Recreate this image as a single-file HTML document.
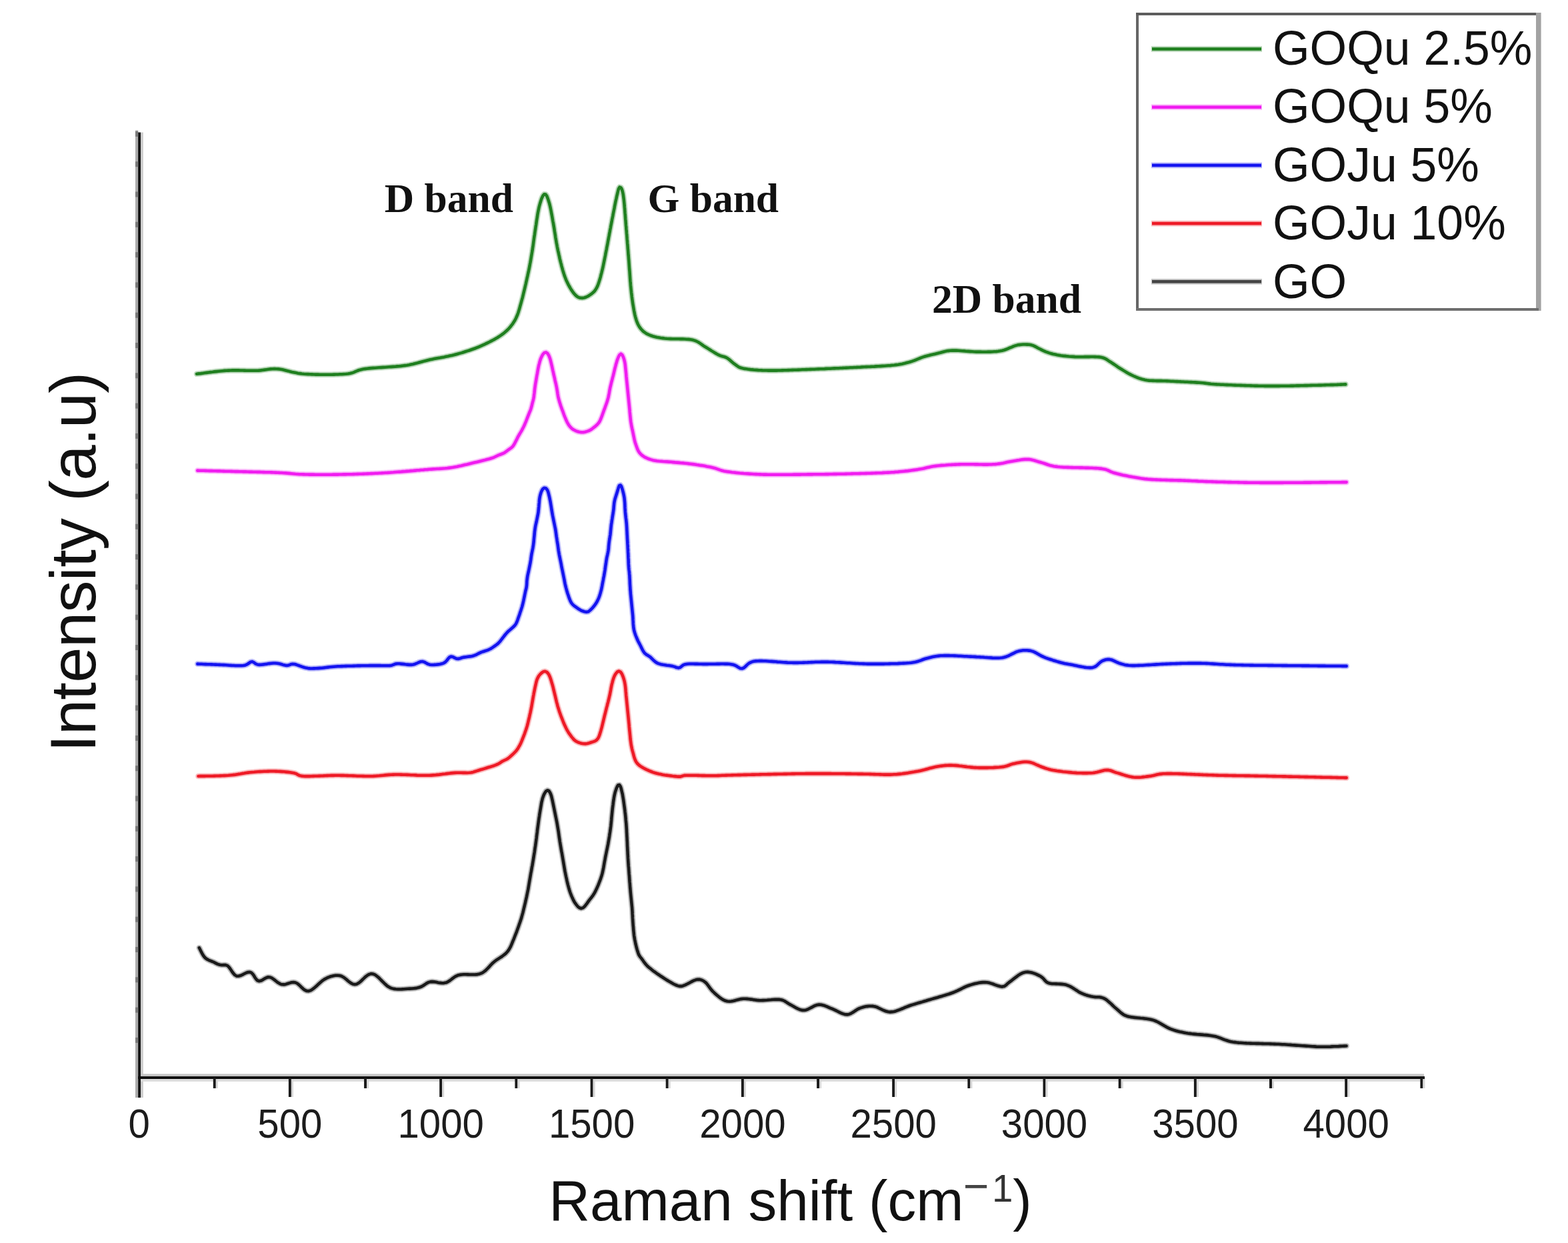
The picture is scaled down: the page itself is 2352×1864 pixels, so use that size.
<!DOCTYPE html>
<html><head><meta charset="utf-8"><title>Raman spectra</title>
<style>html,body{margin:0;padding:0;background:#fff;}body{width:2352px;height:1864px;overflow:hidden;}svg{display:block;}</style>
</head><body>
<svg width="2352" height="1864" viewBox="0 0 2352 1864"><rect x="203" y="195.5" width="4.2" height="1450.5" fill="#acacac"/>
<rect x="210.9" y="198.5" width="3.9" height="1447.5" fill="#cdcdcd"/>
<rect x="207.1" y="198.5" width="3.9" height="1447.5" fill="#141414"/>
<rect x="203" y="196.9" width="4.2" height="8" fill="#7a7a7a"/>
<rect x="203" y="242.2" width="4.2" height="8" fill="#7a7a7a"/>
<rect x="203" y="287.5" width="4.2" height="8" fill="#7a7a7a"/>
<rect x="203" y="332.8" width="4.2" height="8" fill="#7a7a7a"/>
<rect x="203" y="378.1" width="4.2" height="8" fill="#7a7a7a"/>
<rect x="203" y="423.4" width="4.2" height="8" fill="#7a7a7a"/>
<rect x="203" y="468.7" width="4.2" height="8" fill="#7a7a7a"/>
<rect x="203" y="514.0" width="4.2" height="8" fill="#7a7a7a"/>
<rect x="203" y="559.3" width="4.2" height="8" fill="#7a7a7a"/>
<rect x="203" y="604.6" width="4.2" height="8" fill="#7a7a7a"/>
<rect x="203" y="649.9" width="4.2" height="8" fill="#7a7a7a"/>
<rect x="203" y="695.2" width="4.2" height="8" fill="#7a7a7a"/>
<rect x="203" y="740.5" width="4.2" height="8" fill="#7a7a7a"/>
<rect x="203" y="785.8" width="4.2" height="8" fill="#7a7a7a"/>
<rect x="203" y="831.1" width="4.2" height="8" fill="#7a7a7a"/>
<rect x="203" y="876.4" width="4.2" height="8" fill="#7a7a7a"/>
<rect x="203" y="921.7" width="4.2" height="8" fill="#7a7a7a"/>
<rect x="203" y="967.0" width="4.2" height="8" fill="#7a7a7a"/>
<rect x="203" y="1012.3" width="4.2" height="8" fill="#7a7a7a"/>
<rect x="203" y="1057.6" width="4.2" height="8" fill="#7a7a7a"/>
<rect x="203" y="1102.9" width="4.2" height="8" fill="#7a7a7a"/>
<rect x="203" y="1148.2" width="4.2" height="8" fill="#7a7a7a"/>
<rect x="203" y="1193.5" width="4.2" height="8" fill="#7a7a7a"/>
<rect x="203" y="1238.8" width="4.2" height="8" fill="#7a7a7a"/>
<rect x="203" y="1284.1" width="4.2" height="8" fill="#7a7a7a"/>
<rect x="203" y="1329.4" width="4.2" height="8" fill="#7a7a7a"/>
<rect x="203" y="1374.7" width="4.2" height="8" fill="#7a7a7a"/>
<rect x="203" y="1420.0" width="4.2" height="8" fill="#7a7a7a"/>
<rect x="203" y="1465.3" width="4.2" height="8" fill="#7a7a7a"/>
<rect x="203" y="1510.6" width="4.2" height="8" fill="#7a7a7a"/>
<rect x="203" y="1555.9" width="4.2" height="8" fill="#7a7a7a"/>
<rect x="211" y="1610.4" width="1925" height="3.8" fill="#c6c6c6"/>
<rect x="211" y="1617.9" width="1925" height="4" fill="#dcdcdc"/>
<rect x="207" y="1614.1" width="1930" height="3.9" fill="#0c0c0c"/>
<rect x="319.8" y="1616" width="4" height="16" fill="#1a1a1a"/>
<rect x="323.8" y="1618" width="3" height="14" fill="#d8d8d8"/>
<rect x="432.9" y="1616" width="4" height="29" fill="#1a1a1a"/>
<rect x="436.9" y="1618" width="3" height="27" fill="#d8d8d8"/>
<rect x="546.1" y="1616" width="4" height="16" fill="#1a1a1a"/>
<rect x="550.1" y="1618" width="3" height="14" fill="#d8d8d8"/>
<rect x="659.2" y="1616" width="4" height="29" fill="#1a1a1a"/>
<rect x="663.2" y="1618" width="3" height="27" fill="#d8d8d8"/>
<rect x="772.4" y="1616" width="4" height="16" fill="#1a1a1a"/>
<rect x="776.4" y="1618" width="3" height="14" fill="#d8d8d8"/>
<rect x="885.6" y="1616" width="4" height="29" fill="#1a1a1a"/>
<rect x="889.6" y="1618" width="3" height="27" fill="#d8d8d8"/>
<rect x="998.7" y="1616" width="4" height="16" fill="#1a1a1a"/>
<rect x="1002.7" y="1618" width="3" height="14" fill="#d8d8d8"/>
<rect x="1111.9" y="1616" width="4" height="29" fill="#1a1a1a"/>
<rect x="1115.9" y="1618" width="3" height="27" fill="#d8d8d8"/>
<rect x="1225.1" y="1616" width="4" height="16" fill="#1a1a1a"/>
<rect x="1229.1" y="1618" width="3" height="14" fill="#d8d8d8"/>
<rect x="1338.2" y="1616" width="4" height="29" fill="#1a1a1a"/>
<rect x="1342.2" y="1618" width="3" height="27" fill="#d8d8d8"/>
<rect x="1451.4" y="1616" width="4" height="16" fill="#1a1a1a"/>
<rect x="1455.4" y="1618" width="3" height="14" fill="#d8d8d8"/>
<rect x="1564.5" y="1616" width="4" height="29" fill="#1a1a1a"/>
<rect x="1568.5" y="1618" width="3" height="27" fill="#d8d8d8"/>
<rect x="1677.7" y="1616" width="4" height="16" fill="#1a1a1a"/>
<rect x="1681.7" y="1618" width="3" height="14" fill="#d8d8d8"/>
<rect x="1790.9" y="1616" width="4" height="29" fill="#1a1a1a"/>
<rect x="1794.9" y="1618" width="3" height="27" fill="#d8d8d8"/>
<rect x="1904.0" y="1616" width="4" height="16" fill="#1a1a1a"/>
<rect x="1908.0" y="1618" width="3" height="14" fill="#d8d8d8"/>
<rect x="2017.2" y="1616" width="4" height="29" fill="#1a1a1a"/>
<rect x="2021.2" y="1618" width="3" height="27" fill="#d8d8d8"/>
<rect x="2130.4" y="1616" width="4" height="16" fill="#1a1a1a"/>
<rect x="2134.4" y="1618" width="3" height="14" fill="#d8d8d8"/>
<g font-family="Liberation Sans, Arial, sans-serif" font-size="60" fill="#1c1c1c" text-anchor="middle"><text transform="translate(208.6 1706) scale(0.97 1.02)">0</text><text transform="translate(434.9 1706) scale(0.97 1.02)">500</text><text transform="translate(661.2 1706) scale(0.97 1.02)">1000</text><text transform="translate(887.6 1706) scale(0.97 1.02)">1500</text><text transform="translate(1113.9 1706) scale(0.97 1.02)">2000</text><text transform="translate(1340.2 1706) scale(0.97 1.02)">2500</text><text transform="translate(1566.5 1706) scale(0.97 1.02)">3000</text><text transform="translate(1792.9 1706) scale(0.97 1.02)">3500</text><text transform="translate(2019.2 1706) scale(0.97 1.02)">4000</text></g>
<g font-family="Liberation Sans, Arial, sans-serif" fill="#111"><text x="823.2" y="1830" font-size="85.5">Raman shift (cm</text><text x="1444.9" y="1800.5" font-size="66" fill="#444">−</text><text x="1488" y="1801.5" font-size="56.5" fill="#333">1</text><text x="1519.3" y="1828.5" font-size="85.5">)</text></g>
<text transform="translate(142.6 1128.1) rotate(-90)" font-family="Liberation Sans, Arial, sans-serif" font-size="96" letter-spacing="-0.8" fill="#111">Intensity (a.u)</text>
<g font-family="Liberation Serif, Times New Roman, serif" font-weight="bold" font-size="61.5" fill="#111"><text x="576.8" y="317.5">D band</text><text x="971.5" y="317.5">G band</text><text x="1398" y="469">2D band</text></g>
<path d="M295.1 560.8 L298.1 560.4 L301.1 560.1 L304.0 559.7 L307.0 559.3 L310.0 558.9 L313.0 558.5 L315.9 558.1 L318.9 557.8 L321.9 557.4 L324.9 557.1 L327.9 556.8 L330.8 556.5 L333.8 556.2 L336.8 555.9 L339.8 555.7 L342.8 555.6 L345.8 555.5 L348.8 555.4 L351.8 555.4 L354.8 555.4 L357.8 555.4 L360.8 555.5 L363.8 555.5 L366.8 555.6 L369.8 555.7 L372.8 555.7 L375.8 555.8 L378.8 555.8 L381.8 555.8 L384.8 555.7 L387.8 555.6 L390.8 555.4 L393.8 555.0 L396.8 554.6 L399.7 554.2 L402.7 553.8 L405.7 553.4 L408.7 553.2 L411.7 553.1 L414.7 553.2 L417.7 553.4 L420.6 553.8 L423.6 554.3 L426.5 555.0 L429.4 555.7 L432.3 556.4 L435.2 557.2 L438.2 557.9 L441.1 558.5 L444.0 559.1 L447.0 559.7 L449.9 560.1 L452.9 560.5 L455.9 560.8 L458.9 561.0 L461.9 561.1 L464.9 561.3 L467.9 561.4 L470.9 561.5 L473.9 561.6 L476.9 561.6 L479.9 561.7 L482.9 561.7 L485.9 561.7 L488.9 561.7 L491.9 561.7 L494.9 561.7 L497.9 561.7 L500.9 561.6 L503.9 561.5 L506.9 561.5 L509.9 561.3 L512.9 561.2 L515.9 561.0 L518.9 560.8 L521.9 560.5 L524.8 560.0 L527.7 559.3 L530.6 558.3 L533.3 557.2 L536.1 556.0 L538.9 554.9 L541.8 554.2 L544.7 553.5 L547.7 553.1 L550.7 552.7 L553.7 552.4 L556.6 552.1 L559.6 551.9 L562.6 551.7 L565.6 551.5 L568.6 551.3 L571.6 551.1 L574.6 550.9 L577.6 550.7 L580.6 550.5 L583.6 550.3 L586.6 550.1 L589.6 549.9 L592.6 549.7 L595.6 549.4 L598.5 549.2 L601.5 548.9 L604.5 548.5 L607.5 548.1 L610.4 547.7 L613.4 547.2 L616.4 546.6 L619.3 546.0 L622.2 545.3 L625.1 544.6 L628.0 543.8 L630.9 543.0 L633.8 542.2 L636.7 541.4 L639.6 540.7 L642.5 540.0 L645.4 539.3 L648.4 538.7 L651.3 538.1 L654.3 537.5 L657.2 537.0 L660.2 536.5 L663.1 535.9 L666.1 535.4 L669.0 534.8 L672.0 534.3 L674.9 533.6 L677.8 533.0 L680.8 532.3 L683.7 531.5 L686.6 530.7 L689.4 529.9 L692.3 529.1 L695.2 528.2 L698.1 527.3 L700.9 526.4 L703.8 525.5 L706.6 524.5 L709.4 523.5 L712.3 522.5 L715.1 521.4 L717.8 520.3 L720.6 519.1 L723.4 517.9 L726.1 516.7 L728.8 515.4 L731.5 514.1 L734.2 512.8 L736.9 511.4 L739.5 510.0 L742.2 508.6 L744.8 507.1 L747.3 505.5 L749.8 503.9 L752.3 502.2 L754.7 500.4 L757.0 498.5 L759.3 496.5 L761.5 494.5 L763.6 492.3 L765.6 490.0 L767.4 487.7 L769.2 485.3 L770.8 482.8 L772.4 480.2 L773.8 477.5 L775.0 474.8 L776.2 472.0 L777.2 469.2 L778.1 466.4 L779.0 463.5 L779.8 460.6 L780.6 457.7 L781.4 454.8 L782.2 451.9 L783.0 449.0 L783.8 446.1 L784.5 443.2 L785.2 440.3 L785.9 437.4 L786.6 434.5 L787.3 431.6 L788.0 428.6 L788.7 425.7 L789.3 422.8 L790.0 419.9 L790.6 416.9 L791.3 414.0 L791.9 411.1 L792.6 408.1 L793.2 405.2 L793.8 402.3 L794.4 399.3 L794.9 396.4 L795.5 393.4 L796.0 390.5 L796.5 387.5 L797.0 384.5 L797.5 381.6 L798.0 378.6 L798.5 375.7 L798.9 372.7 L799.4 369.7 L799.8 366.8 L800.2 363.8 L800.6 360.8 L801.0 357.8 L801.4 354.9 L801.9 351.9 L802.3 348.9 L802.7 346.0 L803.2 343.0 L803.6 340.0 L804.1 337.1 L804.5 334.1 L804.9 331.1 L805.4 328.2 L805.9 325.2 L806.3 322.2 L806.8 319.3 L807.4 316.3 L808.0 313.4 L808.6 310.5 L809.4 307.5 L810.2 304.7 L811.1 301.8 L812.0 298.9 L813.1 296.2 L814.4 293.5 L816.3 291.3 L818.5 291.5 L820.2 293.8 L821.3 296.6 L822.3 299.4 L823.2 302.3 L824.1 305.1 L824.8 308.0 L825.5 311.0 L826.1 313.9 L826.7 316.9 L827.2 319.8 L827.8 322.8 L828.3 325.7 L828.8 328.7 L829.3 331.6 L829.9 334.6 L830.4 337.5 L830.9 340.5 L831.4 343.5 L831.8 346.4 L832.3 349.4 L832.8 352.3 L833.2 355.3 L833.7 358.3 L834.2 361.2 L834.7 364.2 L835.3 367.1 L835.8 370.1 L836.4 373.0 L837.0 376.0 L837.7 378.9 L838.3 381.8 L839.0 384.8 L839.6 387.7 L840.3 390.6 L841.0 393.5 L841.8 396.4 L842.5 399.3 L843.3 402.2 L844.1 405.1 L845.0 408.0 L845.9 410.9 L846.8 413.7 L847.9 416.5 L849.0 419.3 L850.2 422.1 L851.5 424.8 L852.8 427.4 L854.3 430.0 L855.8 432.6 L857.4 435.2 L859.1 437.6 L860.9 440.0 L862.9 442.3 L865.1 444.3 L867.6 445.9 L870.4 446.8 L873.4 446.9 L876.3 446.5 L879.2 445.5 L881.9 444.2 L884.4 442.6 L886.9 440.9 L889.2 439.0 L891.4 437.0 L893.2 434.6 L894.8 432.0 L896.1 429.4 L897.2 426.6 L898.2 423.7 L899.1 420.9 L900.0 418.0 L900.8 415.1 L901.5 412.2 L902.3 409.3 L903.0 406.4 L903.7 403.5 L904.4 400.6 L905.0 397.6 L905.6 394.7 L906.2 391.7 L906.8 388.8 L907.4 385.9 L908.0 382.9 L908.5 380.0 L909.1 377.0 L909.7 374.1 L910.2 371.1 L910.8 368.2 L911.4 365.2 L911.9 362.3 L912.5 359.3 L913.0 356.4 L913.6 353.4 L914.1 350.5 L914.7 347.5 L915.2 344.6 L915.8 341.6 L916.3 338.7 L916.9 335.7 L917.5 332.8 L918.0 329.8 L918.6 326.9 L919.2 324.0 L919.7 321.0 L920.3 318.1 L920.9 315.1 L921.5 312.2 L922.0 309.2 L922.6 306.3 L923.2 303.3 L923.8 300.4 L924.5 297.5 L925.1 294.5 L925.8 291.6 L926.5 288.7 L927.2 285.8 L928.0 282.9 L929.4 280.7 L931.4 281.4 L932.8 283.9 L933.7 286.8 L934.4 289.7 L934.9 292.6 L935.3 295.6 L935.7 298.6 L936.0 301.6 L936.3 304.5 L936.6 307.5 L936.8 310.5 L937.1 313.5 L937.3 316.5 L937.5 319.5 L937.8 322.5 L938.0 325.5 L938.2 328.5 L938.5 331.5 L938.7 334.5 L938.9 337.4 L939.2 340.4 L939.4 343.4 L939.7 346.4 L939.9 349.4 L940.2 352.4 L940.4 355.4 L940.6 358.4 L940.9 361.4 L941.1 364.4 L941.4 367.4 L941.6 370.3 L941.8 373.3 L942.1 376.3 L942.3 379.3 L942.5 382.3 L942.8 385.3 L943.0 388.3 L943.3 391.3 L943.5 394.3 L943.7 397.3 L943.9 400.3 L944.1 403.3 L944.4 406.2 L944.6 409.2 L944.8 412.2 L945.0 415.2 L945.2 418.2 L945.4 421.2 L945.7 424.2 L945.9 427.2 L946.2 430.2 L946.5 433.2 L946.8 436.2 L947.1 439.1 L947.5 442.1 L947.8 445.1 L948.2 448.1 L948.6 451.0 L949.0 454.0 L949.5 457.0 L950.0 459.9 L950.5 462.9 L951.0 465.9 L951.6 468.8 L952.2 471.7 L952.9 474.6 L953.7 477.5 L954.6 480.4 L955.6 483.2 L956.8 486.0 L958.2 488.6 L959.8 491.2 L961.6 493.5 L963.7 495.7 L965.9 497.7 L968.4 499.4 L971.0 500.9 L973.7 502.2 L976.5 503.3 L979.3 504.2 L982.2 505.0 L985.2 505.7 L988.1 506.2 L991.1 506.7 L994.0 507.1 L997.0 507.5 L1000.0 507.8 L1003.0 508.0 L1006.0 508.1 L1009.0 508.2 L1012.0 508.3 L1015.0 508.3 L1018.0 508.3 L1021.0 508.4 L1024.0 508.4 L1027.0 508.5 L1030.0 508.7 L1033.0 508.9 L1036.0 509.3 L1038.9 509.8 L1041.8 510.6 L1044.6 511.7 L1047.3 513.0 L1049.8 514.6 L1052.3 516.3 L1054.7 518.1 L1057.2 519.8 L1059.7 521.3 L1062.3 522.9 L1064.9 524.5 L1067.4 526.1 L1069.9 527.6 L1072.5 529.2 L1075.1 530.8 L1077.7 532.2 L1080.4 533.4 L1083.3 534.3 L1086.2 535.0 L1089.0 536.0 L1091.6 537.5 L1094.0 539.3 L1096.2 541.3 L1098.5 543.3 L1100.8 545.2 L1103.2 546.9 L1105.6 548.7 L1108.1 550.4 L1110.9 551.5 L1113.8 552.3 L1116.7 552.9 L1119.7 553.3 L1122.6 553.7 L1125.6 554.1 L1128.6 554.4 L1131.6 554.7 L1134.6 554.9 L1137.6 555.1 L1140.6 555.2 L1143.6 555.4 L1146.6 555.5 L1149.6 555.5 L1152.6 555.6 L1155.6 555.6 L1158.6 555.6 L1161.6 555.6 L1164.6 555.6 L1167.6 555.5 L1170.6 555.5 L1173.6 555.4 L1176.6 555.3 L1179.6 555.2 L1182.6 555.1 L1185.6 555.0 L1188.6 554.9 L1191.6 554.8 L1194.6 554.7 L1197.6 554.6 L1200.6 554.5 L1203.6 554.3 L1206.6 554.2 L1209.6 554.1 L1212.6 554.0 L1215.6 553.9 L1218.6 553.8 L1221.6 553.7 L1224.6 553.5 L1227.6 553.4 L1230.6 553.3 L1233.6 553.2 L1236.6 553.1 L1239.5 552.9 L1242.5 552.8 L1245.5 552.7 L1248.5 552.5 L1251.5 552.4 L1254.5 552.3 L1257.5 552.2 L1260.5 552.0 L1263.5 551.9 L1266.5 551.7 L1269.5 551.6 L1272.5 551.5 L1275.5 551.3 L1278.5 551.2 L1281.5 551.0 L1284.5 550.9 L1287.5 550.7 L1290.5 550.6 L1293.5 550.4 L1296.5 550.3 L1299.5 550.1 L1302.5 550.0 L1305.5 549.9 L1308.5 549.7 L1311.5 549.6 L1314.5 549.4 L1317.5 549.3 L1320.5 549.1 L1323.5 548.9 L1326.5 548.7 L1329.5 548.5 L1332.5 548.3 L1335.4 548.1 L1338.4 547.8 L1341.4 547.5 L1344.4 547.1 L1347.4 546.7 L1350.3 546.2 L1353.3 545.7 L1356.2 545.1 L1359.1 544.3 L1362.0 543.6 L1364.9 542.8 L1367.8 541.9 L1370.6 540.9 L1373.4 539.8 L1376.2 538.7 L1379.0 537.5 L1381.8 536.4 L1384.6 535.4 L1387.4 534.5 L1390.3 533.7 L1393.2 533.0 L1396.1 532.2 L1399.1 531.6 L1402.0 530.9 L1404.9 530.2 L1407.8 529.5 L1410.7 528.8 L1413.6 528.0 L1416.5 527.2 L1419.5 526.6 L1422.4 526.1 L1425.4 525.8 L1428.4 525.6 L1431.4 525.6 L1434.4 525.6 L1437.4 525.8 L1440.4 526.0 L1443.4 526.2 L1446.4 526.4 L1449.4 526.7 L1452.4 526.9 L1455.4 527.1 L1458.4 527.3 L1461.4 527.5 L1464.4 527.6 L1467.4 527.6 L1470.4 527.6 L1473.4 527.7 L1476.4 527.7 L1479.4 527.7 L1482.4 527.6 L1485.4 527.6 L1488.4 527.5 L1491.4 527.3 L1494.3 527.1 L1497.3 526.8 L1500.3 526.3 L1503.2 525.7 L1506.1 525.0 L1509.0 524.0 L1511.8 522.9 L1514.5 521.7 L1517.3 520.6 L1520.1 519.4 L1522.9 518.4 L1525.8 517.6 L1528.7 517.1 L1531.7 516.7 L1534.7 516.5 L1537.7 516.5 L1540.7 516.6 L1543.7 516.8 L1546.6 517.3 L1549.5 518.1 L1552.3 519.4 L1554.9 520.8 L1557.5 522.2 L1560.2 523.5 L1562.9 524.9 L1565.6 526.2 L1568.3 527.4 L1571.2 528.4 L1574.0 529.4 L1576.9 530.2 L1579.8 531.0 L1582.7 531.6 L1585.7 532.2 L1588.6 532.7 L1591.6 533.2 L1594.6 533.6 L1597.5 533.9 L1600.5 534.2 L1603.5 534.5 L1606.5 534.7 L1609.5 534.9 L1612.5 535.1 L1615.5 535.2 L1618.5 535.2 L1621.5 535.2 L1624.5 535.2 L1627.5 535.1 L1630.5 535.1 L1633.5 535.1 L1636.5 535.0 L1639.5 535.0 L1642.5 535.1 L1645.5 535.2 L1648.5 535.4 L1651.4 535.8 L1654.4 536.5 L1657.2 537.5 L1659.8 538.9 L1662.3 540.6 L1664.8 542.3 L1667.3 543.8 L1669.8 545.5 L1672.3 547.2 L1674.8 548.9 L1677.2 550.6 L1679.8 552.3 L1682.3 553.8 L1684.9 555.4 L1687.4 556.9 L1690.0 558.5 L1692.6 560.0 L1695.3 561.4 L1698.0 562.7 L1700.7 564.0 L1703.4 565.2 L1706.2 566.3 L1709.0 567.4 L1711.9 568.3 L1714.8 569.1 L1717.7 569.7 L1720.7 570.2 L1723.6 570.6 L1726.6 570.8 L1729.6 570.9 L1732.6 571.0 L1735.6 571.1 L1738.6 571.1 L1741.6 571.1 L1744.6 571.2 L1747.6 571.3 L1750.6 571.4 L1753.6 571.5 L1756.6 571.7 L1759.6 571.8 L1762.6 572.0 L1765.6 572.1 L1768.6 572.2 L1771.6 572.4 L1774.6 572.5 L1777.6 572.7 L1780.6 572.8 L1783.6 573.0 L1786.6 573.1 L1789.6 573.3 L1792.6 573.4 L1795.6 573.6 L1798.6 573.8 L1801.6 574.0 L1804.6 574.2 L1807.5 574.6 L1810.5 575.0 L1813.5 575.4 L1816.5 575.8 L1819.4 576.0 L1822.4 576.2 L1825.4 576.4 L1828.4 576.5 L1831.4 576.7 L1834.4 576.8 L1837.4 577.0 L1840.4 577.1 L1843.4 577.2 L1846.4 577.3 L1849.4 577.5 L1852.4 577.6 L1855.4 577.7 L1858.4 577.8 L1861.4 577.9 L1864.4 578.0 L1867.4 578.1 L1870.4 578.2 L1873.4 578.3 L1876.4 578.4 L1879.4 578.5 L1882.4 578.6 L1885.4 578.6 L1888.4 578.7 L1891.4 578.8 L1894.4 578.8 L1897.4 578.9 L1900.4 578.9 L1903.4 578.9 L1906.4 578.9 L1909.4 578.9 L1912.4 578.9 L1915.4 578.9 L1918.4 578.9 L1921.4 578.8 L1924.4 578.8 L1927.4 578.8 L1930.4 578.7 L1933.4 578.7 L1936.4 578.6 L1939.4 578.6 L1942.4 578.5 L1945.4 578.4 L1948.4 578.4 L1951.4 578.3 L1954.4 578.2 L1957.4 578.1 L1960.4 578.1 L1963.4 578.0 L1966.4 577.9 L1969.4 577.8 L1972.4 577.8 L1975.4 577.7 L1978.4 577.6 L1981.4 577.6 L1984.4 577.5 L1987.4 577.4 L1990.4 577.3 L1993.4 577.2 L1996.4 577.1 L1999.4 577.1 L2002.4 577.0 L2005.4 576.9 L2008.4 576.7 L2011.4 576.6 L2014.4 576.5 L2017.2 576.4 L2018.4 576.4" fill="none" stroke="#1f7f1f" stroke-opacity="0.3" stroke-width="8.6" stroke-linejoin="round" stroke-linecap="round"/>
<path d="M295.1 560.8 L298.1 560.4 L301.1 560.1 L304.0 559.7 L307.0 559.3 L310.0 558.9 L313.0 558.5 L315.9 558.1 L318.9 557.8 L321.9 557.4 L324.9 557.1 L327.9 556.8 L330.8 556.5 L333.8 556.2 L336.8 555.9 L339.8 555.7 L342.8 555.6 L345.8 555.5 L348.8 555.4 L351.8 555.4 L354.8 555.4 L357.8 555.4 L360.8 555.5 L363.8 555.5 L366.8 555.6 L369.8 555.7 L372.8 555.7 L375.8 555.8 L378.8 555.8 L381.8 555.8 L384.8 555.7 L387.8 555.6 L390.8 555.4 L393.8 555.0 L396.8 554.6 L399.7 554.2 L402.7 553.8 L405.7 553.4 L408.7 553.2 L411.7 553.1 L414.7 553.2 L417.7 553.4 L420.6 553.8 L423.6 554.3 L426.5 555.0 L429.4 555.7 L432.3 556.4 L435.2 557.2 L438.2 557.9 L441.1 558.5 L444.0 559.1 L447.0 559.7 L449.9 560.1 L452.9 560.5 L455.9 560.8 L458.9 561.0 L461.9 561.1 L464.9 561.3 L467.9 561.4 L470.9 561.5 L473.9 561.6 L476.9 561.6 L479.9 561.7 L482.9 561.7 L485.9 561.7 L488.9 561.7 L491.9 561.7 L494.9 561.7 L497.9 561.7 L500.9 561.6 L503.9 561.5 L506.9 561.5 L509.9 561.3 L512.9 561.2 L515.9 561.0 L518.9 560.8 L521.9 560.5 L524.8 560.0 L527.7 559.3 L530.6 558.3 L533.3 557.2 L536.1 556.0 L538.9 554.9 L541.8 554.2 L544.7 553.5 L547.7 553.1 L550.7 552.7 L553.7 552.4 L556.6 552.1 L559.6 551.9 L562.6 551.7 L565.6 551.5 L568.6 551.3 L571.6 551.1 L574.6 550.9 L577.6 550.7 L580.6 550.5 L583.6 550.3 L586.6 550.1 L589.6 549.9 L592.6 549.7 L595.6 549.4 L598.5 549.2 L601.5 548.9 L604.5 548.5 L607.5 548.1 L610.4 547.7 L613.4 547.2 L616.4 546.6 L619.3 546.0 L622.2 545.3 L625.1 544.6 L628.0 543.8 L630.9 543.0 L633.8 542.2 L636.7 541.4 L639.6 540.7 L642.5 540.0 L645.4 539.3 L648.4 538.7 L651.3 538.1 L654.3 537.5 L657.2 537.0 L660.2 536.5 L663.1 535.9 L666.1 535.4 L669.0 534.8 L672.0 534.3 L674.9 533.6 L677.8 533.0 L680.8 532.3 L683.7 531.5 L686.6 530.7 L689.4 529.9 L692.3 529.1 L695.2 528.2 L698.1 527.3 L700.9 526.4 L703.8 525.5 L706.6 524.5 L709.4 523.5 L712.3 522.5 L715.1 521.4 L717.8 520.3 L720.6 519.1 L723.4 517.9 L726.1 516.7 L728.8 515.4 L731.5 514.1 L734.2 512.8 L736.9 511.4 L739.5 510.0 L742.2 508.6 L744.8 507.1 L747.3 505.5 L749.8 503.9 L752.3 502.2 L754.7 500.4 L757.0 498.5 L759.3 496.5 L761.5 494.5 L763.6 492.3 L765.6 490.0 L767.4 487.7 L769.2 485.3 L770.8 482.8 L772.4 480.2 L773.8 477.5 L775.0 474.8 L776.2 472.0 L777.2 469.2 L778.1 466.4 L779.0 463.5 L779.8 460.6 L780.6 457.7 L781.4 454.8 L782.2 451.9 L783.0 449.0 L783.8 446.1 L784.5 443.2 L785.2 440.3 L785.9 437.4 L786.6 434.5 L787.3 431.6 L788.0 428.6 L788.7 425.7 L789.3 422.8 L790.0 419.9 L790.6 416.9 L791.3 414.0 L791.9 411.1 L792.6 408.1 L793.2 405.2 L793.8 402.3 L794.4 399.3 L794.9 396.4 L795.5 393.4 L796.0 390.5 L796.5 387.5 L797.0 384.5 L797.5 381.6 L798.0 378.6 L798.5 375.7 L798.9 372.7 L799.4 369.7 L799.8 366.8 L800.2 363.8 L800.6 360.8 L801.0 357.8 L801.4 354.9 L801.9 351.9 L802.3 348.9 L802.7 346.0 L803.2 343.0 L803.6 340.0 L804.1 337.1 L804.5 334.1 L804.9 331.1 L805.4 328.2 L805.9 325.2 L806.3 322.2 L806.8 319.3 L807.4 316.3 L808.0 313.4 L808.6 310.5 L809.4 307.5 L810.2 304.7 L811.1 301.8 L812.0 298.9 L813.1 296.2 L814.4 293.5 L816.3 291.3 L818.5 291.5 L820.2 293.8 L821.3 296.6 L822.3 299.4 L823.2 302.3 L824.1 305.1 L824.8 308.0 L825.5 311.0 L826.1 313.9 L826.7 316.9 L827.2 319.8 L827.8 322.8 L828.3 325.7 L828.8 328.7 L829.3 331.6 L829.9 334.6 L830.4 337.5 L830.9 340.5 L831.4 343.5 L831.8 346.4 L832.3 349.4 L832.8 352.3 L833.2 355.3 L833.7 358.3 L834.2 361.2 L834.7 364.2 L835.3 367.1 L835.8 370.1 L836.4 373.0 L837.0 376.0 L837.7 378.9 L838.3 381.8 L839.0 384.8 L839.6 387.7 L840.3 390.6 L841.0 393.5 L841.8 396.4 L842.5 399.3 L843.3 402.2 L844.1 405.1 L845.0 408.0 L845.9 410.9 L846.8 413.7 L847.9 416.5 L849.0 419.3 L850.2 422.1 L851.5 424.8 L852.8 427.4 L854.3 430.0 L855.8 432.6 L857.4 435.2 L859.1 437.6 L860.9 440.0 L862.9 442.3 L865.1 444.3 L867.6 445.9 L870.4 446.8 L873.4 446.9 L876.3 446.5 L879.2 445.5 L881.9 444.2 L884.4 442.6 L886.9 440.9 L889.2 439.0 L891.4 437.0 L893.2 434.6 L894.8 432.0 L896.1 429.4 L897.2 426.6 L898.2 423.7 L899.1 420.9 L900.0 418.0 L900.8 415.1 L901.5 412.2 L902.3 409.3 L903.0 406.4 L903.7 403.5 L904.4 400.6 L905.0 397.6 L905.6 394.7 L906.2 391.7 L906.8 388.8 L907.4 385.9 L908.0 382.9 L908.5 380.0 L909.1 377.0 L909.7 374.1 L910.2 371.1 L910.8 368.2 L911.4 365.2 L911.9 362.3 L912.5 359.3 L913.0 356.4 L913.6 353.4 L914.1 350.5 L914.7 347.5 L915.2 344.6 L915.8 341.6 L916.3 338.7 L916.9 335.7 L917.5 332.8 L918.0 329.8 L918.6 326.9 L919.2 324.0 L919.7 321.0 L920.3 318.1 L920.9 315.1 L921.5 312.2 L922.0 309.2 L922.6 306.3 L923.2 303.3 L923.8 300.4 L924.5 297.5 L925.1 294.5 L925.8 291.6 L926.5 288.7 L927.2 285.8 L928.0 282.9 L929.4 280.7 L931.4 281.4 L932.8 283.9 L933.7 286.8 L934.4 289.7 L934.9 292.6 L935.3 295.6 L935.7 298.6 L936.0 301.6 L936.3 304.5 L936.6 307.5 L936.8 310.5 L937.1 313.5 L937.3 316.5 L937.5 319.5 L937.8 322.5 L938.0 325.5 L938.2 328.5 L938.5 331.5 L938.7 334.5 L938.9 337.4 L939.2 340.4 L939.4 343.4 L939.7 346.4 L939.9 349.4 L940.2 352.4 L940.4 355.4 L940.6 358.4 L940.9 361.4 L941.1 364.4 L941.4 367.4 L941.6 370.3 L941.8 373.3 L942.1 376.3 L942.3 379.3 L942.5 382.3 L942.8 385.3 L943.0 388.3 L943.3 391.3 L943.5 394.3 L943.7 397.3 L943.9 400.3 L944.1 403.3 L944.4 406.2 L944.6 409.2 L944.8 412.2 L945.0 415.2 L945.2 418.2 L945.4 421.2 L945.7 424.2 L945.9 427.2 L946.2 430.2 L946.5 433.2 L946.8 436.2 L947.1 439.1 L947.5 442.1 L947.8 445.1 L948.2 448.1 L948.6 451.0 L949.0 454.0 L949.5 457.0 L950.0 459.9 L950.5 462.9 L951.0 465.9 L951.6 468.8 L952.2 471.7 L952.9 474.6 L953.7 477.5 L954.6 480.4 L955.6 483.2 L956.8 486.0 L958.2 488.6 L959.8 491.2 L961.6 493.5 L963.7 495.7 L965.9 497.7 L968.4 499.4 L971.0 500.9 L973.7 502.2 L976.5 503.3 L979.3 504.2 L982.2 505.0 L985.2 505.7 L988.1 506.2 L991.1 506.7 L994.0 507.1 L997.0 507.5 L1000.0 507.8 L1003.0 508.0 L1006.0 508.1 L1009.0 508.2 L1012.0 508.3 L1015.0 508.3 L1018.0 508.3 L1021.0 508.4 L1024.0 508.4 L1027.0 508.5 L1030.0 508.7 L1033.0 508.9 L1036.0 509.3 L1038.9 509.8 L1041.8 510.6 L1044.6 511.7 L1047.3 513.0 L1049.8 514.6 L1052.3 516.3 L1054.7 518.1 L1057.2 519.8 L1059.7 521.3 L1062.3 522.9 L1064.9 524.5 L1067.4 526.1 L1069.9 527.6 L1072.5 529.2 L1075.1 530.8 L1077.7 532.2 L1080.4 533.4 L1083.3 534.3 L1086.2 535.0 L1089.0 536.0 L1091.6 537.5 L1094.0 539.3 L1096.2 541.3 L1098.5 543.3 L1100.8 545.2 L1103.2 546.9 L1105.6 548.7 L1108.1 550.4 L1110.9 551.5 L1113.8 552.3 L1116.7 552.9 L1119.7 553.3 L1122.6 553.7 L1125.6 554.1 L1128.6 554.4 L1131.6 554.7 L1134.6 554.9 L1137.6 555.1 L1140.6 555.2 L1143.6 555.4 L1146.6 555.5 L1149.6 555.5 L1152.6 555.6 L1155.6 555.6 L1158.6 555.6 L1161.6 555.6 L1164.6 555.6 L1167.6 555.5 L1170.6 555.5 L1173.6 555.4 L1176.6 555.3 L1179.6 555.2 L1182.6 555.1 L1185.6 555.0 L1188.6 554.9 L1191.6 554.8 L1194.6 554.7 L1197.6 554.6 L1200.6 554.5 L1203.6 554.3 L1206.6 554.2 L1209.6 554.1 L1212.6 554.0 L1215.6 553.9 L1218.6 553.8 L1221.6 553.7 L1224.6 553.5 L1227.6 553.4 L1230.6 553.3 L1233.6 553.2 L1236.6 553.1 L1239.5 552.9 L1242.5 552.8 L1245.5 552.7 L1248.5 552.5 L1251.5 552.4 L1254.5 552.3 L1257.5 552.2 L1260.5 552.0 L1263.5 551.9 L1266.5 551.7 L1269.5 551.6 L1272.5 551.5 L1275.5 551.3 L1278.5 551.2 L1281.5 551.0 L1284.5 550.9 L1287.5 550.7 L1290.5 550.6 L1293.5 550.4 L1296.5 550.3 L1299.5 550.1 L1302.5 550.0 L1305.5 549.9 L1308.5 549.7 L1311.5 549.6 L1314.5 549.4 L1317.5 549.3 L1320.5 549.1 L1323.5 548.9 L1326.5 548.7 L1329.5 548.5 L1332.5 548.3 L1335.4 548.1 L1338.4 547.8 L1341.4 547.5 L1344.4 547.1 L1347.4 546.7 L1350.3 546.2 L1353.3 545.7 L1356.2 545.1 L1359.1 544.3 L1362.0 543.6 L1364.9 542.8 L1367.8 541.9 L1370.6 540.9 L1373.4 539.8 L1376.2 538.7 L1379.0 537.5 L1381.8 536.4 L1384.6 535.4 L1387.4 534.5 L1390.3 533.7 L1393.2 533.0 L1396.1 532.2 L1399.1 531.6 L1402.0 530.9 L1404.9 530.2 L1407.8 529.5 L1410.7 528.8 L1413.6 528.0 L1416.5 527.2 L1419.5 526.6 L1422.4 526.1 L1425.4 525.8 L1428.4 525.6 L1431.4 525.6 L1434.4 525.6 L1437.4 525.8 L1440.4 526.0 L1443.4 526.2 L1446.4 526.4 L1449.4 526.7 L1452.4 526.9 L1455.4 527.1 L1458.4 527.3 L1461.4 527.5 L1464.4 527.6 L1467.4 527.6 L1470.4 527.6 L1473.4 527.7 L1476.4 527.7 L1479.4 527.7 L1482.4 527.6 L1485.4 527.6 L1488.4 527.5 L1491.4 527.3 L1494.3 527.1 L1497.3 526.8 L1500.3 526.3 L1503.2 525.7 L1506.1 525.0 L1509.0 524.0 L1511.8 522.9 L1514.5 521.7 L1517.3 520.6 L1520.1 519.4 L1522.9 518.4 L1525.8 517.6 L1528.7 517.1 L1531.7 516.7 L1534.7 516.5 L1537.7 516.5 L1540.7 516.6 L1543.7 516.8 L1546.6 517.3 L1549.5 518.1 L1552.3 519.4 L1554.9 520.8 L1557.5 522.2 L1560.2 523.5 L1562.9 524.9 L1565.6 526.2 L1568.3 527.4 L1571.2 528.4 L1574.0 529.4 L1576.9 530.2 L1579.8 531.0 L1582.7 531.6 L1585.7 532.2 L1588.6 532.7 L1591.6 533.2 L1594.6 533.6 L1597.5 533.9 L1600.5 534.2 L1603.5 534.5 L1606.5 534.7 L1609.5 534.9 L1612.5 535.1 L1615.5 535.2 L1618.5 535.2 L1621.5 535.2 L1624.5 535.2 L1627.5 535.1 L1630.5 535.1 L1633.5 535.1 L1636.5 535.0 L1639.5 535.0 L1642.5 535.1 L1645.5 535.2 L1648.5 535.4 L1651.4 535.8 L1654.4 536.5 L1657.2 537.5 L1659.8 538.9 L1662.3 540.6 L1664.8 542.3 L1667.3 543.8 L1669.8 545.5 L1672.3 547.2 L1674.8 548.9 L1677.2 550.6 L1679.8 552.3 L1682.3 553.8 L1684.9 555.4 L1687.4 556.9 L1690.0 558.5 L1692.6 560.0 L1695.3 561.4 L1698.0 562.7 L1700.7 564.0 L1703.4 565.2 L1706.2 566.3 L1709.0 567.4 L1711.9 568.3 L1714.8 569.1 L1717.7 569.7 L1720.7 570.2 L1723.6 570.6 L1726.6 570.8 L1729.6 570.9 L1732.6 571.0 L1735.6 571.1 L1738.6 571.1 L1741.6 571.1 L1744.6 571.2 L1747.6 571.3 L1750.6 571.4 L1753.6 571.5 L1756.6 571.7 L1759.6 571.8 L1762.6 572.0 L1765.6 572.1 L1768.6 572.2 L1771.6 572.4 L1774.6 572.5 L1777.6 572.7 L1780.6 572.8 L1783.6 573.0 L1786.6 573.1 L1789.6 573.3 L1792.6 573.4 L1795.6 573.6 L1798.6 573.8 L1801.6 574.0 L1804.6 574.2 L1807.5 574.6 L1810.5 575.0 L1813.5 575.4 L1816.5 575.8 L1819.4 576.0 L1822.4 576.2 L1825.4 576.4 L1828.4 576.5 L1831.4 576.7 L1834.4 576.8 L1837.4 577.0 L1840.4 577.1 L1843.4 577.2 L1846.4 577.3 L1849.4 577.5 L1852.4 577.6 L1855.4 577.7 L1858.4 577.8 L1861.4 577.9 L1864.4 578.0 L1867.4 578.1 L1870.4 578.2 L1873.4 578.3 L1876.4 578.4 L1879.4 578.5 L1882.4 578.6 L1885.4 578.6 L1888.4 578.7 L1891.4 578.8 L1894.4 578.8 L1897.4 578.9 L1900.4 578.9 L1903.4 578.9 L1906.4 578.9 L1909.4 578.9 L1912.4 578.9 L1915.4 578.9 L1918.4 578.9 L1921.4 578.8 L1924.4 578.8 L1927.4 578.8 L1930.4 578.7 L1933.4 578.7 L1936.4 578.6 L1939.4 578.6 L1942.4 578.5 L1945.4 578.4 L1948.4 578.4 L1951.4 578.3 L1954.4 578.2 L1957.4 578.1 L1960.4 578.1 L1963.4 578.0 L1966.4 577.9 L1969.4 577.8 L1972.4 577.8 L1975.4 577.7 L1978.4 577.6 L1981.4 577.6 L1984.4 577.5 L1987.4 577.4 L1990.4 577.3 L1993.4 577.2 L1996.4 577.1 L1999.4 577.1 L2002.4 577.0 L2005.4 576.9 L2008.4 576.7 L2011.4 576.6 L2014.4 576.5 L2017.2 576.4 L2018.4 576.4" fill="none" stroke="#1f7f1f" stroke-width="4.6" stroke-linejoin="round" stroke-linecap="round"/>
<path d="M296.3 705.6 L299.3 705.7 L302.3 705.8 L305.3 705.8 L308.3 705.9 L311.3 706.0 L314.3 706.1 L317.3 706.1 L320.3 706.2 L323.3 706.3 L326.3 706.4 L329.3 706.4 L332.3 706.5 L335.3 706.6 L338.3 706.7 L341.3 706.7 L344.3 706.8 L347.3 706.9 L350.3 707.0 L353.3 707.1 L356.3 707.1 L359.3 707.2 L362.3 707.3 L365.3 707.4 L368.3 707.4 L371.3 707.5 L374.3 707.6 L377.3 707.6 L380.3 707.7 L383.3 707.8 L386.3 707.9 L389.3 707.9 L392.3 708.0 L395.3 708.1 L398.3 708.2 L401.3 708.3 L404.3 708.3 L407.3 708.4 L410.3 708.5 L413.3 708.6 L416.3 708.7 L419.3 708.9 L422.3 709.0 L425.3 709.2 L428.3 709.4 L431.3 709.6 L434.2 709.9 L437.2 710.2 L440.2 710.5 L443.2 710.8 L446.2 711.0 L449.2 711.2 L452.2 711.3 L455.2 711.4 L458.2 711.5 L461.2 711.5 L464.2 711.6 L467.2 711.6 L470.2 711.6 L473.2 711.7 L476.2 711.7 L479.2 711.7 L482.2 711.7 L485.2 711.7 L488.2 711.7 L491.2 711.7 L494.2 711.7 L497.2 711.7 L500.2 711.6 L503.2 711.6 L506.2 711.6 L509.2 711.5 L512.2 711.5 L515.2 711.4 L518.2 711.4 L521.2 711.3 L524.2 711.3 L527.2 711.2 L530.2 711.1 L533.2 711.0 L536.2 710.9 L539.2 710.8 L542.2 710.7 L545.2 710.6 L548.2 710.5 L551.2 710.4 L554.2 710.3 L557.2 710.1 L560.2 710.0 L563.2 709.8 L566.2 709.7 L569.2 709.5 L572.2 709.4 L575.2 709.2 L578.2 709.0 L581.2 708.9 L584.1 708.7 L587.1 708.5 L590.1 708.3 L593.1 708.0 L596.1 707.8 L599.1 707.6 L602.1 707.4 L605.1 707.1 L608.1 706.9 L611.1 706.6 L614.1 706.4 L617.1 706.1 L620.0 705.9 L623.0 705.6 L626.0 705.3 L629.0 705.1 L632.0 704.8 L635.0 704.6 L638.0 704.3 L641.0 704.1 L644.0 703.8 L647.0 703.6 L649.9 703.4 L652.9 703.2 L655.9 703.0 L658.9 702.9 L661.9 702.7 L664.9 702.5 L667.9 702.3 L670.9 702.0 L673.9 701.6 L676.9 701.2 L679.8 700.8 L682.8 700.2 L685.7 699.7 L688.7 699.0 L691.6 698.4 L694.5 697.7 L697.4 697.0 L700.4 696.4 L703.3 695.7 L706.2 695.0 L709.1 694.3 L712.0 693.6 L715.0 692.9 L717.9 692.2 L720.8 691.5 L723.7 690.8 L726.6 690.1 L729.5 689.3 L732.4 688.6 L735.3 687.7 L738.2 686.8 L741.0 685.8 L743.7 684.5 L746.4 683.2 L749.2 682.0 L752.0 681.0 L754.7 679.9 L757.4 678.4 L759.8 676.7 L762.2 674.8 L764.6 673.1 L767.1 671.4 L769.2 669.3 L770.9 666.9 L772.3 664.3 L773.7 661.6 L775.1 658.9 L776.4 656.2 L777.8 653.6 L779.3 651.0 L780.9 648.4 L782.4 645.8 L783.8 643.2 L785.2 640.5 L786.5 637.8 L787.6 635.1 L788.8 632.3 L789.9 629.5 L791.0 626.7 L792.1 623.9 L793.2 621.1 L794.3 618.3 L795.5 615.6 L796.5 612.7 L797.3 609.9 L798.0 606.9 L798.7 604.0 L799.5 601.1 L800.2 598.2 L800.8 595.3 L801.1 592.3 L801.5 589.3 L801.8 586.3 L802.1 583.3 L802.5 580.4 L802.9 577.4 L803.4 574.4 L803.9 571.5 L804.4 568.5 L804.9 565.6 L805.4 562.6 L806.0 559.7 L806.5 556.7 L807.0 553.8 L807.6 550.8 L808.2 547.9 L809.0 545.0 L809.7 542.1 L810.6 539.2 L811.7 536.4 L813.0 533.7 L814.5 531.1 L816.5 529.0 L819.0 528.4 L821.3 529.9 L822.9 532.4 L824.1 535.2 L825.1 538.0 L825.9 540.9 L826.6 543.8 L827.3 546.7 L828.0 549.7 L828.6 552.6 L829.2 555.5 L829.9 558.4 L830.5 561.4 L831.2 564.3 L831.9 567.2 L832.5 570.2 L833.2 573.1 L833.9 576.0 L834.5 578.9 L835.1 581.9 L835.6 584.8 L836.1 587.8 L836.5 590.8 L837.0 593.7 L837.6 596.7 L838.4 599.6 L839.2 602.5 L840.1 605.3 L841.0 608.2 L842.0 611.0 L843.0 613.8 L844.1 616.6 L845.1 619.5 L846.1 622.3 L847.2 625.1 L848.4 627.8 L849.5 630.6 L850.8 633.3 L852.3 635.9 L853.9 638.4 L855.8 640.7 L858.0 642.8 L860.5 644.5 L863.1 645.8 L865.9 647.0 L868.8 647.8 L871.8 648.2 L874.8 648.2 L877.7 647.7 L880.6 646.9 L883.4 645.9 L886.0 644.5 L888.5 642.8 L890.9 640.9 L893.2 639.1 L895.5 637.1 L897.5 634.8 L899.2 632.4 L900.5 629.7 L901.7 627.0 L902.8 624.2 L903.8 621.3 L904.8 618.5 L905.8 615.7 L906.9 612.9 L907.9 610.0 L908.9 607.2 L909.9 604.4 L910.9 601.6 L911.7 598.7 L912.5 595.8 L913.1 592.8 L913.7 589.9 L914.2 586.9 L914.7 584.0 L915.3 581.0 L916.0 578.1 L916.7 575.2 L917.4 572.3 L918.2 569.4 L918.9 566.5 L919.7 563.6 L920.4 560.7 L921.1 557.8 L921.8 554.8 L922.5 551.9 L923.3 549.0 L924.0 546.1 L924.9 543.2 L925.7 540.4 L926.8 537.5 L927.9 534.8 L929.4 532.2 L931.3 530.7 L933.3 532.1 L934.6 534.7 L935.7 537.5 L936.5 540.4 L937.2 543.3 L937.7 546.3 L938.0 549.2 L938.3 552.2 L938.6 555.2 L938.9 558.2 L939.2 561.2 L939.4 564.2 L939.7 567.2 L940.0 570.2 L940.3 573.1 L940.6 576.1 L940.9 579.1 L941.2 582.1 L941.5 585.1 L941.8 588.1 L942.1 591.1 L942.4 594.0 L942.7 597.0 L943.0 600.0 L943.3 603.0 L943.6 606.0 L943.9 609.0 L944.2 612.0 L944.5 614.9 L944.7 617.9 L945.0 620.9 L945.3 623.9 L945.6 626.9 L945.9 629.9 L946.3 632.9 L946.8 635.8 L947.3 638.8 L947.9 641.7 L948.5 644.6 L949.2 647.6 L949.8 650.5 L950.4 653.5 L951.0 656.4 L951.6 659.3 L952.3 662.2 L953.2 665.1 L954.2 667.9 L955.2 670.8 L956.2 673.6 L957.5 676.3 L959.1 678.8 L961.1 681.1 L963.3 683.0 L965.8 684.7 L968.4 686.2 L971.1 687.4 L973.9 688.5 L976.8 689.4 L979.7 690.2 L982.6 690.7 L985.6 691.2 L988.6 691.5 L991.6 691.7 L994.6 692.0 L997.6 692.2 L1000.6 692.4 L1003.6 692.6 L1006.6 692.8 L1009.5 693.1 L1012.5 693.4 L1015.5 693.6 L1018.5 693.9 L1021.5 694.2 L1024.5 694.4 L1027.5 694.7 L1030.5 695.0 L1033.4 695.4 L1036.4 695.7 L1039.4 696.1 L1042.4 696.5 L1045.3 697.0 L1048.3 697.4 L1051.3 697.9 L1054.2 698.3 L1057.2 698.8 L1060.1 699.4 L1063.1 699.9 L1066.0 700.5 L1069.0 701.2 L1071.9 701.9 L1074.7 702.9 L1077.5 703.9 L1080.3 704.9 L1083.2 705.8 L1086.1 706.4 L1089.1 706.9 L1092.1 707.4 L1095.0 707.8 L1098.0 708.2 L1101.0 708.5 L1104.0 708.9 L1107.0 709.2 L1109.9 709.5 L1112.9 709.7 L1115.9 710.0 L1118.9 710.2 L1121.9 710.4 L1124.9 710.6 L1127.9 710.8 L1130.9 711.0 L1133.9 711.1 L1136.9 711.3 L1139.9 711.4 L1142.9 711.5 L1145.9 711.6 L1148.9 711.6 L1151.9 711.7 L1154.9 711.7 L1157.9 711.7 L1160.9 711.8 L1163.9 711.8 L1166.9 711.8 L1169.9 711.8 L1172.9 711.8 L1175.9 711.7 L1178.9 711.7 L1181.9 711.7 L1184.9 711.7 L1187.9 711.7 L1190.9 711.6 L1193.9 711.6 L1196.9 711.6 L1199.9 711.6 L1202.9 711.5 L1205.9 711.5 L1208.9 711.5 L1211.9 711.4 L1214.9 711.4 L1217.9 711.4 L1220.9 711.3 L1223.9 711.3 L1226.9 711.3 L1229.9 711.2 L1232.9 711.2 L1235.9 711.2 L1238.9 711.1 L1241.9 711.1 L1244.9 711.0 L1247.9 711.0 L1250.9 710.9 L1253.9 710.9 L1256.9 710.8 L1259.9 710.8 L1262.9 710.7 L1265.9 710.7 L1268.9 710.6 L1271.9 710.5 L1274.9 710.5 L1277.9 710.4 L1280.9 710.3 L1283.9 710.3 L1286.9 710.2 L1289.9 710.1 L1292.9 710.0 L1295.9 710.0 L1298.9 709.9 L1301.9 709.8 L1304.9 709.7 L1307.9 709.6 L1310.9 709.5 L1313.9 709.4 L1316.9 709.3 L1319.9 709.2 L1322.9 709.1 L1325.9 708.9 L1328.9 708.8 L1331.9 708.6 L1334.9 708.5 L1337.9 708.3 L1340.9 708.1 L1343.9 707.8 L1346.8 707.6 L1349.8 707.3 L1352.8 707.0 L1355.8 706.7 L1358.8 706.4 L1361.8 706.1 L1364.7 705.7 L1367.7 705.3 L1370.7 704.9 L1373.7 704.5 L1376.6 704.1 L1379.6 703.6 L1382.6 703.1 L1385.5 702.5 L1388.4 701.8 L1391.3 701.1 L1394.3 700.4 L1397.2 699.8 L1400.2 699.3 L1403.1 698.9 L1406.1 698.5 L1409.1 698.2 L1412.1 697.9 L1415.1 697.7 L1418.1 697.5 L1421.0 697.2 L1424.0 697.0 L1427.0 696.9 L1430.0 696.7 L1433.0 696.6 L1436.0 696.5 L1439.0 696.4 L1442.0 696.3 L1445.0 696.2 L1448.0 696.2 L1451.0 696.2 L1454.0 696.3 L1457.0 696.3 L1460.0 696.3 L1463.0 696.4 L1466.0 696.4 L1469.0 696.5 L1472.0 696.5 L1475.0 696.6 L1478.0 696.6 L1481.0 696.6 L1484.0 696.5 L1487.0 696.5 L1490.0 696.3 L1493.0 696.1 L1496.0 695.8 L1499.0 695.4 L1501.9 694.9 L1504.9 694.4 L1507.8 693.8 L1510.8 693.1 L1513.7 692.5 L1516.6 691.9 L1519.6 691.4 L1522.5 690.9 L1525.5 690.4 L1528.5 690.0 L1531.4 689.5 L1534.4 689.1 L1537.4 688.9 L1540.4 688.8 L1543.4 688.9 L1546.4 689.3 L1549.3 689.9 L1552.2 690.7 L1555.1 691.6 L1557.9 692.5 L1560.8 693.3 L1563.7 694.1 L1566.6 695.0 L1569.4 696.0 L1572.2 697.0 L1575.1 697.9 L1578.0 698.6 L1580.9 699.2 L1583.9 699.6 L1586.9 700.0 L1589.9 700.3 L1592.9 700.5 L1595.9 700.7 L1598.9 700.8 L1601.9 700.9 L1604.9 701.0 L1607.9 701.1 L1610.9 701.2 L1613.9 701.2 L1616.9 701.3 L1619.9 701.4 L1622.9 701.4 L1625.9 701.5 L1628.9 701.6 L1631.9 701.6 L1634.9 701.7 L1637.9 701.8 L1640.8 702.0 L1643.8 702.1 L1646.8 702.3 L1649.8 702.6 L1652.8 702.9 L1655.8 703.4 L1658.7 704.1 L1661.5 705.1 L1664.2 706.4 L1666.9 707.7 L1669.7 708.7 L1672.6 709.5 L1675.5 710.3 L1678.4 711.0 L1681.4 711.7 L1684.3 712.4 L1687.2 713.0 L1690.1 713.6 L1693.1 714.2 L1696.0 714.7 L1699.0 715.3 L1701.9 715.8 L1704.9 716.3 L1707.9 716.8 L1710.8 717.3 L1713.8 717.7 L1716.8 718.1 L1719.8 718.4 L1722.7 718.7 L1725.7 718.9 L1728.7 719.1 L1731.7 719.3 L1734.7 719.4 L1737.7 719.5 L1740.7 719.6 L1743.7 719.7 L1746.7 719.8 L1749.7 719.9 L1752.7 720.0 L1755.7 720.1 L1758.7 720.1 L1761.7 720.2 L1764.7 720.3 L1767.7 720.4 L1770.7 720.4 L1773.7 720.5 L1776.7 720.6 L1779.7 720.8 L1782.7 720.9 L1785.7 721.0 L1788.7 721.2 L1791.7 721.3 L1794.7 721.4 L1797.7 721.6 L1800.7 721.7 L1803.7 721.8 L1806.7 722.0 L1809.7 722.1 L1812.7 722.2 L1815.7 722.3 L1818.7 722.4 L1821.7 722.5 L1824.7 722.6 L1827.7 722.7 L1830.7 722.7 L1833.7 722.8 L1836.7 722.9 L1839.7 723.0 L1842.7 723.1 L1845.7 723.1 L1848.7 723.2 L1851.7 723.3 L1854.7 723.3 L1857.7 723.4 L1860.7 723.5 L1863.7 723.5 L1866.7 723.6 L1869.7 723.6 L1872.7 723.7 L1875.7 723.7 L1878.7 723.7 L1881.7 723.8 L1884.7 723.8 L1887.7 723.8 L1890.7 723.9 L1893.7 723.9 L1896.7 723.9 L1899.7 723.9 L1902.7 723.9 L1905.7 723.9 L1908.7 723.9 L1911.7 723.9 L1914.7 723.9 L1917.7 723.9 L1920.7 723.9 L1923.7 723.9 L1926.7 723.8 L1929.7 723.8 L1932.7 723.8 L1935.7 723.8 L1938.7 723.8 L1941.7 723.8 L1944.7 723.7 L1947.7 723.7 L1950.7 723.7 L1953.7 723.7 L1956.7 723.6 L1959.7 723.6 L1962.7 723.6 L1965.7 723.6 L1968.7 723.5 L1971.7 723.5 L1974.7 723.5 L1977.7 723.5 L1980.7 723.4 L1983.7 723.4 L1986.7 723.4 L1989.7 723.4 L1992.7 723.3 L1995.7 723.3 L1998.7 723.3 L2001.7 723.3 L2004.7 723.2 L2007.7 723.2 L2010.7 723.2 L2013.7 723.1 L2016.7 723.1 L2019.7 723.1" fill="none" stroke="#f01cf0" stroke-opacity="0.3" stroke-width="8.6" stroke-linejoin="round" stroke-linecap="round"/>
<path d="M296.3 705.6 L299.3 705.7 L302.3 705.8 L305.3 705.8 L308.3 705.9 L311.3 706.0 L314.3 706.1 L317.3 706.1 L320.3 706.2 L323.3 706.3 L326.3 706.4 L329.3 706.4 L332.3 706.5 L335.3 706.6 L338.3 706.7 L341.3 706.7 L344.3 706.8 L347.3 706.9 L350.3 707.0 L353.3 707.1 L356.3 707.1 L359.3 707.2 L362.3 707.3 L365.3 707.4 L368.3 707.4 L371.3 707.5 L374.3 707.6 L377.3 707.6 L380.3 707.7 L383.3 707.8 L386.3 707.9 L389.3 707.9 L392.3 708.0 L395.3 708.1 L398.3 708.2 L401.3 708.3 L404.3 708.3 L407.3 708.4 L410.3 708.5 L413.3 708.6 L416.3 708.7 L419.3 708.9 L422.3 709.0 L425.3 709.2 L428.3 709.4 L431.3 709.6 L434.2 709.9 L437.2 710.2 L440.2 710.5 L443.2 710.8 L446.2 711.0 L449.2 711.2 L452.2 711.3 L455.2 711.4 L458.2 711.5 L461.2 711.5 L464.2 711.6 L467.2 711.6 L470.2 711.6 L473.2 711.7 L476.2 711.7 L479.2 711.7 L482.2 711.7 L485.2 711.7 L488.2 711.7 L491.2 711.7 L494.2 711.7 L497.2 711.7 L500.2 711.6 L503.2 711.6 L506.2 711.6 L509.2 711.5 L512.2 711.5 L515.2 711.4 L518.2 711.4 L521.2 711.3 L524.2 711.3 L527.2 711.2 L530.2 711.1 L533.2 711.0 L536.2 710.9 L539.2 710.8 L542.2 710.7 L545.2 710.6 L548.2 710.5 L551.2 710.4 L554.2 710.3 L557.2 710.1 L560.2 710.0 L563.2 709.8 L566.2 709.7 L569.2 709.5 L572.2 709.4 L575.2 709.2 L578.2 709.0 L581.2 708.9 L584.1 708.7 L587.1 708.5 L590.1 708.3 L593.1 708.0 L596.1 707.8 L599.1 707.6 L602.1 707.4 L605.1 707.1 L608.1 706.9 L611.1 706.6 L614.1 706.4 L617.1 706.1 L620.0 705.9 L623.0 705.6 L626.0 705.3 L629.0 705.1 L632.0 704.8 L635.0 704.6 L638.0 704.3 L641.0 704.1 L644.0 703.8 L647.0 703.6 L649.9 703.4 L652.9 703.2 L655.9 703.0 L658.9 702.9 L661.9 702.7 L664.9 702.5 L667.9 702.3 L670.9 702.0 L673.9 701.6 L676.9 701.2 L679.8 700.8 L682.8 700.2 L685.7 699.7 L688.7 699.0 L691.6 698.4 L694.5 697.7 L697.4 697.0 L700.4 696.4 L703.3 695.7 L706.2 695.0 L709.1 694.3 L712.0 693.6 L715.0 692.9 L717.9 692.2 L720.8 691.5 L723.7 690.8 L726.6 690.1 L729.5 689.3 L732.4 688.6 L735.3 687.7 L738.2 686.8 L741.0 685.8 L743.7 684.5 L746.4 683.2 L749.2 682.0 L752.0 681.0 L754.7 679.9 L757.4 678.4 L759.8 676.7 L762.2 674.8 L764.6 673.1 L767.1 671.4 L769.2 669.3 L770.9 666.9 L772.3 664.3 L773.7 661.6 L775.1 658.9 L776.4 656.2 L777.8 653.6 L779.3 651.0 L780.9 648.4 L782.4 645.8 L783.8 643.2 L785.2 640.5 L786.5 637.8 L787.6 635.1 L788.8 632.3 L789.9 629.5 L791.0 626.7 L792.1 623.9 L793.2 621.1 L794.3 618.3 L795.5 615.6 L796.5 612.7 L797.3 609.9 L798.0 606.9 L798.7 604.0 L799.5 601.1 L800.2 598.2 L800.8 595.3 L801.1 592.3 L801.5 589.3 L801.8 586.3 L802.1 583.3 L802.5 580.4 L802.9 577.4 L803.4 574.4 L803.9 571.5 L804.4 568.5 L804.9 565.6 L805.4 562.6 L806.0 559.7 L806.5 556.7 L807.0 553.8 L807.6 550.8 L808.2 547.9 L809.0 545.0 L809.7 542.1 L810.6 539.2 L811.7 536.4 L813.0 533.7 L814.5 531.1 L816.5 529.0 L819.0 528.4 L821.3 529.9 L822.9 532.4 L824.1 535.2 L825.1 538.0 L825.9 540.9 L826.6 543.8 L827.3 546.7 L828.0 549.7 L828.6 552.6 L829.2 555.5 L829.9 558.4 L830.5 561.4 L831.2 564.3 L831.9 567.2 L832.5 570.2 L833.2 573.1 L833.9 576.0 L834.5 578.9 L835.1 581.9 L835.6 584.8 L836.1 587.8 L836.5 590.8 L837.0 593.7 L837.6 596.7 L838.4 599.6 L839.2 602.5 L840.1 605.3 L841.0 608.2 L842.0 611.0 L843.0 613.8 L844.1 616.6 L845.1 619.5 L846.1 622.3 L847.2 625.1 L848.4 627.8 L849.5 630.6 L850.8 633.3 L852.3 635.9 L853.9 638.4 L855.8 640.7 L858.0 642.8 L860.5 644.5 L863.1 645.8 L865.9 647.0 L868.8 647.8 L871.8 648.2 L874.8 648.2 L877.7 647.7 L880.6 646.9 L883.4 645.9 L886.0 644.5 L888.5 642.8 L890.9 640.9 L893.2 639.1 L895.5 637.1 L897.5 634.8 L899.2 632.4 L900.5 629.7 L901.7 627.0 L902.8 624.2 L903.8 621.3 L904.8 618.5 L905.8 615.7 L906.9 612.9 L907.9 610.0 L908.9 607.2 L909.9 604.4 L910.9 601.6 L911.7 598.7 L912.5 595.8 L913.1 592.8 L913.7 589.9 L914.2 586.9 L914.7 584.0 L915.3 581.0 L916.0 578.1 L916.7 575.2 L917.4 572.3 L918.2 569.4 L918.9 566.5 L919.7 563.6 L920.4 560.7 L921.1 557.8 L921.8 554.8 L922.5 551.9 L923.3 549.0 L924.0 546.1 L924.9 543.2 L925.7 540.4 L926.8 537.5 L927.9 534.8 L929.4 532.2 L931.3 530.7 L933.3 532.1 L934.6 534.7 L935.7 537.5 L936.5 540.4 L937.2 543.3 L937.7 546.3 L938.0 549.2 L938.3 552.2 L938.6 555.2 L938.9 558.2 L939.2 561.2 L939.4 564.2 L939.7 567.2 L940.0 570.2 L940.3 573.1 L940.6 576.1 L940.9 579.1 L941.2 582.1 L941.5 585.1 L941.8 588.1 L942.1 591.1 L942.4 594.0 L942.7 597.0 L943.0 600.0 L943.3 603.0 L943.6 606.0 L943.9 609.0 L944.2 612.0 L944.5 614.9 L944.7 617.9 L945.0 620.9 L945.3 623.9 L945.6 626.9 L945.9 629.9 L946.3 632.9 L946.8 635.8 L947.3 638.8 L947.9 641.7 L948.5 644.6 L949.2 647.6 L949.8 650.5 L950.4 653.5 L951.0 656.4 L951.6 659.3 L952.3 662.2 L953.2 665.1 L954.2 667.9 L955.2 670.8 L956.2 673.6 L957.5 676.3 L959.1 678.8 L961.1 681.1 L963.3 683.0 L965.8 684.7 L968.4 686.2 L971.1 687.4 L973.9 688.5 L976.8 689.4 L979.7 690.2 L982.6 690.7 L985.6 691.2 L988.6 691.5 L991.6 691.7 L994.6 692.0 L997.6 692.2 L1000.6 692.4 L1003.6 692.6 L1006.6 692.8 L1009.5 693.1 L1012.5 693.4 L1015.5 693.6 L1018.5 693.9 L1021.5 694.2 L1024.5 694.4 L1027.5 694.7 L1030.5 695.0 L1033.4 695.4 L1036.4 695.7 L1039.4 696.1 L1042.4 696.5 L1045.3 697.0 L1048.3 697.4 L1051.3 697.9 L1054.2 698.3 L1057.2 698.8 L1060.1 699.4 L1063.1 699.9 L1066.0 700.5 L1069.0 701.2 L1071.9 701.9 L1074.7 702.9 L1077.5 703.9 L1080.3 704.9 L1083.2 705.8 L1086.1 706.4 L1089.1 706.9 L1092.1 707.4 L1095.0 707.8 L1098.0 708.2 L1101.0 708.5 L1104.0 708.9 L1107.0 709.2 L1109.9 709.5 L1112.9 709.7 L1115.9 710.0 L1118.9 710.2 L1121.9 710.4 L1124.9 710.6 L1127.9 710.8 L1130.9 711.0 L1133.9 711.1 L1136.9 711.3 L1139.9 711.4 L1142.9 711.5 L1145.9 711.6 L1148.9 711.6 L1151.9 711.7 L1154.9 711.7 L1157.9 711.7 L1160.9 711.8 L1163.9 711.8 L1166.9 711.8 L1169.9 711.8 L1172.9 711.8 L1175.9 711.7 L1178.9 711.7 L1181.9 711.7 L1184.9 711.7 L1187.9 711.7 L1190.9 711.6 L1193.9 711.6 L1196.9 711.6 L1199.9 711.6 L1202.9 711.5 L1205.9 711.5 L1208.9 711.5 L1211.9 711.4 L1214.9 711.4 L1217.9 711.4 L1220.9 711.3 L1223.9 711.3 L1226.9 711.3 L1229.9 711.2 L1232.9 711.2 L1235.9 711.2 L1238.9 711.1 L1241.9 711.1 L1244.9 711.0 L1247.9 711.0 L1250.9 710.9 L1253.9 710.9 L1256.9 710.8 L1259.9 710.8 L1262.9 710.7 L1265.9 710.7 L1268.9 710.6 L1271.9 710.5 L1274.9 710.5 L1277.9 710.4 L1280.9 710.3 L1283.9 710.3 L1286.9 710.2 L1289.9 710.1 L1292.9 710.0 L1295.9 710.0 L1298.9 709.9 L1301.9 709.8 L1304.9 709.7 L1307.9 709.6 L1310.9 709.5 L1313.9 709.4 L1316.9 709.3 L1319.9 709.2 L1322.9 709.1 L1325.9 708.9 L1328.9 708.8 L1331.9 708.6 L1334.9 708.5 L1337.9 708.3 L1340.9 708.1 L1343.9 707.8 L1346.8 707.6 L1349.8 707.3 L1352.8 707.0 L1355.8 706.7 L1358.8 706.4 L1361.8 706.1 L1364.7 705.7 L1367.7 705.3 L1370.7 704.9 L1373.7 704.5 L1376.6 704.1 L1379.6 703.6 L1382.6 703.1 L1385.5 702.5 L1388.4 701.8 L1391.3 701.1 L1394.3 700.4 L1397.2 699.8 L1400.2 699.3 L1403.1 698.9 L1406.1 698.5 L1409.1 698.2 L1412.1 697.9 L1415.1 697.7 L1418.1 697.5 L1421.0 697.2 L1424.0 697.0 L1427.0 696.9 L1430.0 696.7 L1433.0 696.6 L1436.0 696.5 L1439.0 696.4 L1442.0 696.3 L1445.0 696.2 L1448.0 696.2 L1451.0 696.2 L1454.0 696.3 L1457.0 696.3 L1460.0 696.3 L1463.0 696.4 L1466.0 696.4 L1469.0 696.5 L1472.0 696.5 L1475.0 696.6 L1478.0 696.6 L1481.0 696.6 L1484.0 696.5 L1487.0 696.5 L1490.0 696.3 L1493.0 696.1 L1496.0 695.8 L1499.0 695.4 L1501.9 694.9 L1504.9 694.4 L1507.8 693.8 L1510.8 693.1 L1513.7 692.5 L1516.6 691.9 L1519.6 691.4 L1522.5 690.9 L1525.5 690.4 L1528.5 690.0 L1531.4 689.5 L1534.4 689.1 L1537.4 688.9 L1540.4 688.8 L1543.4 688.9 L1546.4 689.3 L1549.3 689.9 L1552.2 690.7 L1555.1 691.6 L1557.9 692.5 L1560.8 693.3 L1563.7 694.1 L1566.6 695.0 L1569.4 696.0 L1572.2 697.0 L1575.1 697.9 L1578.0 698.6 L1580.9 699.2 L1583.9 699.6 L1586.9 700.0 L1589.9 700.3 L1592.9 700.5 L1595.9 700.7 L1598.9 700.8 L1601.9 700.9 L1604.9 701.0 L1607.9 701.1 L1610.9 701.2 L1613.9 701.2 L1616.9 701.3 L1619.9 701.4 L1622.9 701.4 L1625.9 701.5 L1628.9 701.6 L1631.9 701.6 L1634.9 701.7 L1637.9 701.8 L1640.8 702.0 L1643.8 702.1 L1646.8 702.3 L1649.8 702.6 L1652.8 702.9 L1655.8 703.4 L1658.7 704.1 L1661.5 705.1 L1664.2 706.4 L1666.9 707.7 L1669.7 708.7 L1672.6 709.5 L1675.5 710.3 L1678.4 711.0 L1681.4 711.7 L1684.3 712.4 L1687.2 713.0 L1690.1 713.6 L1693.1 714.2 L1696.0 714.7 L1699.0 715.3 L1701.9 715.8 L1704.9 716.3 L1707.9 716.8 L1710.8 717.3 L1713.8 717.7 L1716.8 718.1 L1719.8 718.4 L1722.7 718.7 L1725.7 718.9 L1728.7 719.1 L1731.7 719.3 L1734.7 719.4 L1737.7 719.5 L1740.7 719.6 L1743.7 719.7 L1746.7 719.8 L1749.7 719.9 L1752.7 720.0 L1755.7 720.1 L1758.7 720.1 L1761.7 720.2 L1764.7 720.3 L1767.7 720.4 L1770.7 720.4 L1773.7 720.5 L1776.7 720.6 L1779.7 720.8 L1782.7 720.9 L1785.7 721.0 L1788.7 721.2 L1791.7 721.3 L1794.7 721.4 L1797.7 721.6 L1800.7 721.7 L1803.7 721.8 L1806.7 722.0 L1809.7 722.1 L1812.7 722.2 L1815.7 722.3 L1818.7 722.4 L1821.7 722.5 L1824.7 722.6 L1827.7 722.7 L1830.7 722.7 L1833.7 722.8 L1836.7 722.9 L1839.7 723.0 L1842.7 723.1 L1845.7 723.1 L1848.7 723.2 L1851.7 723.3 L1854.7 723.3 L1857.7 723.4 L1860.7 723.5 L1863.7 723.5 L1866.7 723.6 L1869.7 723.6 L1872.7 723.7 L1875.7 723.7 L1878.7 723.7 L1881.7 723.8 L1884.7 723.8 L1887.7 723.8 L1890.7 723.9 L1893.7 723.9 L1896.7 723.9 L1899.7 723.9 L1902.7 723.9 L1905.7 723.9 L1908.7 723.9 L1911.7 723.9 L1914.7 723.9 L1917.7 723.9 L1920.7 723.9 L1923.7 723.9 L1926.7 723.8 L1929.7 723.8 L1932.7 723.8 L1935.7 723.8 L1938.7 723.8 L1941.7 723.8 L1944.7 723.7 L1947.7 723.7 L1950.7 723.7 L1953.7 723.7 L1956.7 723.6 L1959.7 723.6 L1962.7 723.6 L1965.7 723.6 L1968.7 723.5 L1971.7 723.5 L1974.7 723.5 L1977.7 723.5 L1980.7 723.4 L1983.7 723.4 L1986.7 723.4 L1989.7 723.4 L1992.7 723.3 L1995.7 723.3 L1998.7 723.3 L2001.7 723.3 L2004.7 723.2 L2007.7 723.2 L2010.7 723.2 L2013.7 723.1 L2016.7 723.1 L2019.7 723.1" fill="none" stroke="#f01cf0" stroke-width="4.6" stroke-linejoin="round" stroke-linecap="round"/>
<path d="M296.3 995.6 L299.3 995.7 L302.3 995.8 L305.3 996.0 L308.3 996.1 L311.3 996.2 L314.3 996.3 L317.3 996.4 L320.3 996.5 L323.3 996.6 L326.3 996.8 L329.3 996.9 L332.3 997.0 L335.3 997.1 L338.3 997.3 L341.3 997.5 L344.3 997.7 L347.3 997.9 L350.2 998.0 L353.2 998.2 L356.2 998.3 L359.2 998.3 L362.2 998.3 L365.2 998.0 L368.1 997.4 L370.9 996.2 L373.3 994.5 L375.7 992.8 L378.5 992.2 L381.0 993.5 L383.4 995.3 L386.1 996.5 L389.0 996.9 L392.0 996.7 L395.0 996.4 L398.0 996.0 L400.9 995.6 L403.9 995.1 L406.9 994.8 L409.9 994.5 L412.9 994.5 L415.8 994.7 L418.8 995.3 L421.7 996.0 L424.6 996.9 L427.5 997.6 L430.4 998.0 L433.3 997.5 L436.1 996.3 L438.9 995.7 L441.9 996.0 L444.7 996.8 L447.6 997.8 L450.4 998.9 L453.2 999.9 L456.0 1000.8 L458.9 1001.6 L461.9 1002.1 L464.9 1002.4 L467.9 1002.5 L470.9 1002.4 L473.9 1002.3 L476.9 1002.1 L479.9 1001.9 L482.9 1001.7 L485.8 1001.4 L488.8 1001.0 L491.8 1000.6 L494.8 1000.3 L497.8 1000.0 L500.7 999.7 L503.7 999.5 L506.7 999.3 L509.7 999.2 L512.7 999.1 L515.7 999.0 L518.7 998.9 L521.7 998.8 L524.7 998.7 L527.7 998.7 L530.7 998.6 L533.7 998.5 L536.7 998.4 L539.7 998.4 L542.7 998.3 L545.7 998.3 L548.7 998.2 L551.7 998.2 L554.7 998.1 L557.7 998.1 L560.7 998.1 L563.7 998.1 L566.7 998.1 L569.7 998.1 L572.7 998.2 L575.7 998.2 L578.7 998.3 L581.7 998.2 L584.7 998.1 L587.7 997.7 L590.5 996.7 L593.2 995.6 L596.1 995.2 L599.1 995.3 L602.1 995.6 L605.1 995.9 L608.1 996.3 L611.0 996.6 L614.0 996.9 L617.0 996.9 L620.0 996.5 L622.8 995.7 L625.6 994.5 L628.3 993.2 L631.1 992.3 L634.1 992.1 L636.9 993.0 L639.5 994.5 L642.1 995.9 L645.0 996.7 L648.0 997.0 L651.0 996.9 L654.0 996.7 L656.9 996.4 L659.9 996.0 L662.8 995.3 L665.6 994.3 L668.1 992.7 L670.2 990.5 L672.0 988.1 L673.9 985.9 L676.4 984.6 L679.2 985.0 L681.8 986.4 L684.5 987.6 L687.4 987.9 L690.3 987.2 L693.1 986.3 L696.0 985.6 L699.0 985.2 L702.0 984.8 L705.0 984.4 L707.9 983.9 L710.8 983.2 L713.6 982.2 L716.3 980.8 L719.0 979.4 L721.7 978.2 L724.5 977.2 L727.4 976.3 L730.2 975.4 L733.0 974.3 L735.7 973.0 L738.3 971.4 L740.8 969.7 L743.2 968.0 L745.6 966.2 L747.8 964.2 L749.9 962.0 L751.7 959.7 L753.5 957.3 L755.4 954.9 L757.2 952.5 L759.1 950.2 L761.1 948.0 L763.3 945.9 L765.6 944.0 L767.9 942.0 L770.1 940.0 L772.2 937.9 L773.9 935.5 L775.2 932.8 L776.3 930.0 L777.3 927.1 L778.3 924.3 L779.3 921.5 L780.2 918.6 L781.2 915.8 L782.1 912.9 L783.0 910.1 L783.8 907.2 L784.5 904.3 L785.2 901.3 L785.8 898.4 L786.4 895.5 L787.0 892.5 L787.6 889.6 L788.2 886.7 L789.0 883.7 L789.6 880.8 L790.0 877.8 L790.2 874.8 L790.3 871.9 L790.6 868.9 L791.0 865.9 L791.5 862.9 L792.1 860.0 L792.8 857.1 L793.4 854.1 L794.0 851.2 L794.6 848.3 L795.2 845.3 L795.7 842.4 L796.2 839.4 L796.6 836.4 L797.0 833.5 L797.5 830.5 L798.1 827.6 L798.7 824.6 L799.3 821.7 L799.8 818.7 L800.2 815.8 L800.6 812.8 L800.8 809.8 L801.1 806.8 L801.4 803.8 L801.7 800.8 L801.9 797.8 L802.3 794.9 L802.7 791.9 L803.2 788.9 L803.8 786.0 L804.5 783.1 L805.1 780.1 L805.7 777.2 L806.3 774.3 L806.9 771.3 L807.4 768.4 L807.7 765.4 L808.0 762.4 L808.3 759.4 L808.5 756.4 L808.8 753.4 L809.0 750.4 L809.4 747.4 L809.9 744.5 L810.6 741.6 L811.5 738.7 L812.6 736.0 L814.1 733.4 L816.4 731.7 L818.9 732.2 L820.8 734.4 L822.0 737.1 L822.8 740.0 L823.5 742.9 L824.2 745.8 L824.8 748.8 L825.4 751.7 L825.9 754.7 L826.4 757.6 L826.9 760.6 L827.3 763.5 L827.8 766.5 L828.3 769.5 L828.8 772.4 L829.4 775.4 L830.0 778.3 L830.6 781.2 L831.2 784.2 L831.8 787.1 L832.4 790.1 L833.0 793.0 L833.5 796.0 L833.9 798.9 L834.3 801.9 L834.7 804.9 L835.2 807.8 L835.6 810.8 L836.1 813.8 L836.6 816.7 L837.0 819.7 L837.4 822.7 L837.8 825.6 L838.3 828.6 L838.8 831.6 L839.4 834.5 L840.0 837.5 L840.6 840.4 L841.2 843.3 L841.8 846.3 L842.3 849.2 L842.9 852.2 L843.5 855.1 L844.1 858.0 L844.7 861.0 L845.3 863.9 L845.9 866.9 L846.5 869.8 L847.0 872.8 L847.6 875.7 L848.3 878.6 L849.0 881.5 L849.8 884.4 L850.6 887.3 L851.5 890.2 L852.5 893.0 L853.4 895.9 L854.5 898.7 L855.6 901.4 L857.1 904.1 L858.9 906.4 L861.1 908.4 L863.6 910.2 L866.0 911.9 L868.4 913.6 L871.0 915.1 L873.8 916.3 L876.7 917.2 L879.6 917.8 L882.3 917.3 L884.7 915.5 L886.9 913.5 L889.0 911.3 L890.9 909.0 L892.7 906.6 L894.4 904.1 L895.9 901.5 L897.2 898.8 L898.4 896.1 L899.4 893.3 L900.3 890.4 L901.1 887.5 L901.9 884.6 L902.5 881.7 L903.1 878.7 L903.6 875.8 L904.2 872.8 L904.8 869.9 L905.3 866.9 L905.9 864.0 L906.4 861.0 L906.9 858.1 L907.4 855.1 L907.8 852.1 L908.2 849.2 L908.7 846.2 L909.1 843.2 L909.5 840.3 L910.0 837.3 L910.6 834.4 L911.3 831.4 L911.9 828.5 L912.4 825.6 L912.8 822.6 L913.0 819.6 L913.3 816.6 L913.6 813.6 L914.0 810.6 L914.5 807.7 L914.9 804.7 L915.4 801.8 L915.7 798.8 L916.0 795.8 L916.3 792.8 L916.6 789.8 L916.9 786.8 L917.4 783.9 L917.8 780.9 L918.3 777.9 L918.7 775.0 L919.2 772.0 L919.7 769.0 L920.1 766.1 L920.5 763.1 L920.7 760.1 L921.0 757.1 L921.3 754.1 L921.8 751.2 L922.5 748.3 L923.4 745.4 L924.3 742.5 L925.2 739.7 L926.1 736.8 L927.0 734.0 L927.8 731.1 L928.9 728.4 L930.6 727.5 L932.1 729.5 L933.1 732.3 L933.9 735.2 L934.7 738.1 L935.4 741.0 L936.0 744.0 L936.5 746.9 L936.8 749.9 L937.1 752.9 L937.3 755.9 L937.4 758.9 L937.5 761.9 L937.7 764.9 L937.9 767.9 L938.2 770.9 L938.5 773.9 L938.8 776.8 L939.2 779.8 L939.5 782.8 L939.8 785.8 L940.0 788.8 L940.2 791.8 L940.3 794.8 L940.5 797.8 L940.6 800.8 L940.8 803.8 L940.9 806.8 L941.1 809.8 L941.3 812.8 L941.4 815.7 L941.6 818.7 L941.7 821.7 L941.9 824.7 L942.0 827.7 L942.2 830.7 L942.3 833.7 L942.4 836.7 L942.6 839.7 L942.7 842.7 L942.8 845.7 L943.0 848.7 L943.2 851.7 L943.5 854.7 L943.9 857.7 L944.1 860.7 L944.4 863.6 L944.5 866.6 L944.7 869.6 L944.8 872.6 L944.9 875.6 L945.1 878.6 L945.3 881.6 L945.4 884.6 L945.7 887.6 L945.9 890.6 L946.2 893.6 L946.5 896.6 L946.8 899.6 L947.1 902.5 L947.4 905.5 L947.7 908.5 L948.0 911.5 L948.3 914.5 L948.6 917.5 L948.9 920.5 L949.2 923.4 L949.4 926.4 L949.5 929.4 L949.7 932.4 L949.8 935.4 L950.1 938.4 L950.4 941.4 L950.9 944.4 L951.6 947.3 L952.5 950.1 L953.5 953.0 L954.6 955.7 L955.8 958.5 L957.0 961.2 L958.4 963.9 L959.8 966.5 L961.2 969.2 L962.5 971.9 L963.8 974.6 L965.3 977.2 L967.1 979.6 L969.4 981.5 L971.9 983.0 L974.4 984.6 L976.7 986.6 L978.8 988.7 L981.0 990.8 L983.3 992.7 L985.8 994.3 L988.6 995.4 L991.5 996.2 L994.4 996.8 L997.4 997.2 L1000.3 997.7 L1003.3 998.0 L1006.3 998.5 L1009.2 999.1 L1012.1 999.9 L1014.9 1001.1 L1017.7 1001.6 L1020.4 1000.8 L1022.7 998.9 L1025.1 997.2 L1027.9 996.2 L1030.8 995.7 L1033.8 995.5 L1036.8 995.5 L1039.8 995.5 L1042.8 995.6 L1045.8 995.6 L1048.8 995.7 L1051.8 995.8 L1054.8 995.9 L1057.8 995.9 L1060.8 995.9 L1063.8 995.8 L1066.8 995.8 L1069.8 995.7 L1072.8 995.7 L1075.8 995.6 L1078.8 995.6 L1081.8 995.5 L1084.8 995.5 L1087.8 995.6 L1090.8 995.6 L1093.8 995.8 L1096.8 996.2 L1099.7 996.8 L1102.6 997.7 L1105.2 999.1 L1107.7 1000.8 L1110.3 1002.2 L1113.1 1002.5 L1115.8 1001.5 L1118.1 999.5 L1120.2 997.4 L1122.4 995.4 L1124.9 993.8 L1127.6 992.6 L1130.5 991.8 L1133.5 991.4 L1136.5 991.2 L1139.5 991.1 L1142.5 991.1 L1145.5 991.2 L1148.5 991.3 L1151.5 991.5 L1154.5 991.7 L1157.5 991.9 L1160.5 992.1 L1163.4 992.3 L1166.4 992.6 L1169.4 992.8 L1172.4 993.0 L1175.4 993.2 L1178.4 993.4 L1181.4 993.6 L1184.4 993.7 L1187.4 993.8 L1190.4 993.9 L1193.4 993.9 L1196.4 993.9 L1199.4 993.8 L1202.4 993.8 L1205.4 993.6 L1208.4 993.5 L1211.4 993.4 L1214.4 993.2 L1217.4 993.1 L1220.4 993.0 L1223.4 992.8 L1226.4 992.7 L1229.4 992.7 L1232.4 992.6 L1235.4 992.6 L1238.4 992.6 L1241.4 992.6 L1244.4 992.7 L1247.4 992.8 L1250.4 992.9 L1253.4 993.1 L1256.4 993.2 L1259.4 993.4 L1262.4 993.6 L1265.3 993.8 L1268.3 994.0 L1271.3 994.2 L1274.3 994.3 L1277.3 994.5 L1280.3 994.7 L1283.3 994.9 L1286.3 995.0 L1289.3 995.2 L1292.3 995.3 L1295.3 995.4 L1298.3 995.5 L1301.3 995.6 L1304.3 995.6 L1307.3 995.6 L1310.3 995.6 L1313.3 995.6 L1316.3 995.6 L1319.3 995.6 L1322.3 995.6 L1325.3 995.6 L1328.3 995.5 L1331.3 995.5 L1334.3 995.4 L1337.3 995.3 L1340.3 995.3 L1343.3 995.2 L1346.3 995.1 L1349.3 994.9 L1352.3 994.8 L1355.3 994.6 L1358.3 994.5 L1361.3 994.2 L1364.3 994.0 L1367.2 993.7 L1370.2 993.3 L1373.2 992.7 L1376.1 992.0 L1378.9 991.1 L1381.8 990.1 L1384.5 989.0 L1387.4 988.0 L1390.3 987.2 L1393.2 986.5 L1396.1 985.8 L1399.0 985.1 L1401.9 984.5 L1404.9 984.0 L1407.9 983.6 L1410.9 983.3 L1413.9 983.2 L1416.9 983.1 L1419.9 983.1 L1422.9 983.1 L1425.9 983.2 L1428.9 983.3 L1431.9 983.4 L1434.9 983.5 L1437.9 983.7 L1440.8 983.8 L1443.8 984.0 L1446.8 984.2 L1449.8 984.3 L1452.8 984.5 L1455.8 984.6 L1458.8 984.8 L1461.8 984.9 L1464.8 985.1 L1467.8 985.2 L1470.8 985.4 L1473.8 985.5 L1476.8 985.8 L1479.8 986.0 L1482.8 986.2 L1485.8 986.4 L1488.8 986.6 L1491.8 986.7 L1494.8 986.8 L1497.8 986.7 L1500.8 986.5 L1503.7 986.2 L1506.7 985.5 L1509.5 984.7 L1512.3 983.6 L1515.0 982.3 L1517.7 980.9 L1520.4 979.6 L1523.1 978.2 L1525.8 977.1 L1528.7 976.3 L1531.6 975.7 L1534.6 975.3 L1537.6 975.2 L1540.6 975.2 L1543.6 975.6 L1546.5 976.1 L1549.4 976.9 L1552.2 978.1 L1554.8 979.5 L1557.4 981.0 L1560.0 982.5 L1562.6 983.9 L1565.4 985.2 L1568.2 986.3 L1571.0 987.3 L1573.8 988.3 L1576.7 989.2 L1579.5 990.2 L1582.4 991.0 L1585.3 991.9 L1588.1 992.7 L1591.0 993.5 L1593.9 994.2 L1596.9 994.9 L1599.8 995.4 L1602.8 996.0 L1605.7 996.5 L1608.7 997.1 L1611.6 997.7 L1614.5 998.3 L1617.5 998.9 L1620.4 999.5 L1623.4 1000.1 L1626.3 1000.6 L1629.3 1001.0 L1632.3 1001.3 L1635.3 1001.4 L1638.2 1001.2 L1641.1 1000.4 L1643.7 999.1 L1646.1 997.2 L1648.2 995.1 L1650.4 993.1 L1652.9 991.4 L1655.7 990.2 L1658.5 989.3 L1661.5 988.9 L1664.4 988.9 L1667.4 989.5 L1670.1 990.6 L1672.8 991.9 L1675.5 993.2 L1678.3 994.4 L1681.1 995.3 L1684.0 996.1 L1686.9 996.9 L1689.9 997.4 L1692.8 997.8 L1695.8 998.0 L1698.8 998.1 L1701.8 998.1 L1704.8 998.0 L1707.8 997.9 L1710.8 997.8 L1713.8 997.7 L1716.8 997.5 L1719.8 997.3 L1722.8 997.1 L1725.8 997.0 L1728.8 996.8 L1731.8 996.6 L1734.8 996.4 L1737.8 996.2 L1740.8 996.0 L1743.8 995.9 L1746.8 995.8 L1749.8 995.6 L1752.8 995.5 L1755.8 995.4 L1758.8 995.3 L1761.8 995.2 L1764.8 995.1 L1767.8 995.0 L1770.8 994.9 L1773.8 994.8 L1776.8 994.8 L1779.8 994.7 L1782.8 994.6 L1785.8 994.6 L1788.8 994.6 L1791.8 994.6 L1794.8 994.6 L1797.8 994.6 L1800.8 994.6 L1803.8 994.7 L1806.8 994.8 L1809.8 994.9 L1812.8 995.0 L1815.7 995.2 L1818.7 995.4 L1821.7 995.6 L1824.7 995.8 L1827.7 996.0 L1830.7 996.2 L1833.7 996.3 L1836.7 996.5 L1839.7 996.7 L1842.7 996.8 L1845.7 996.9 L1848.7 997.0 L1851.7 997.1 L1854.7 997.2 L1857.7 997.3 L1860.7 997.3 L1863.7 997.4 L1866.7 997.5 L1869.7 997.5 L1872.7 997.5 L1875.7 997.6 L1878.7 997.6 L1881.7 997.7 L1884.7 997.7 L1887.7 997.7 L1890.7 997.8 L1893.7 997.8 L1896.7 997.8 L1899.7 997.8 L1902.7 997.9 L1905.7 997.9 L1908.7 997.9 L1911.7 998.0 L1914.7 998.0 L1917.7 998.0 L1920.7 998.0 L1923.7 998.1 L1926.7 998.1 L1929.7 998.1 L1932.7 998.2 L1935.7 998.2 L1938.7 998.2 L1941.7 998.3 L1944.7 998.3 L1947.7 998.3 L1950.7 998.3 L1953.7 998.4 L1956.7 998.4 L1959.7 998.4 L1962.7 998.4 L1965.7 998.5 L1968.7 998.5 L1971.7 998.5 L1974.7 998.5 L1977.7 998.6 L1980.7 998.6 L1983.7 998.6 L1986.7 998.6 L1989.7 998.7 L1992.7 998.7 L1995.7 998.7 L1998.7 998.7 L2001.7 998.8 L2004.7 998.8 L2007.7 998.8 L2010.7 998.8 L2013.7 998.9 L2016.7 998.9 L2019.7 998.9" fill="none" stroke="#1414f0" stroke-opacity="0.3" stroke-width="8.6" stroke-linejoin="round" stroke-linecap="round"/>
<path d="M296.3 995.6 L299.3 995.7 L302.3 995.8 L305.3 996.0 L308.3 996.1 L311.3 996.2 L314.3 996.3 L317.3 996.4 L320.3 996.5 L323.3 996.6 L326.3 996.8 L329.3 996.9 L332.3 997.0 L335.3 997.1 L338.3 997.3 L341.3 997.5 L344.3 997.7 L347.3 997.9 L350.2 998.0 L353.2 998.2 L356.2 998.3 L359.2 998.3 L362.2 998.3 L365.2 998.0 L368.1 997.4 L370.9 996.2 L373.3 994.5 L375.7 992.8 L378.5 992.2 L381.0 993.5 L383.4 995.3 L386.1 996.5 L389.0 996.9 L392.0 996.7 L395.0 996.4 L398.0 996.0 L400.9 995.6 L403.9 995.1 L406.9 994.8 L409.9 994.5 L412.9 994.5 L415.8 994.7 L418.8 995.3 L421.7 996.0 L424.6 996.9 L427.5 997.6 L430.4 998.0 L433.3 997.5 L436.1 996.3 L438.9 995.7 L441.9 996.0 L444.7 996.8 L447.6 997.8 L450.4 998.9 L453.2 999.9 L456.0 1000.8 L458.9 1001.6 L461.9 1002.1 L464.9 1002.4 L467.9 1002.5 L470.9 1002.4 L473.9 1002.3 L476.9 1002.1 L479.9 1001.9 L482.9 1001.7 L485.8 1001.4 L488.8 1001.0 L491.8 1000.6 L494.8 1000.3 L497.8 1000.0 L500.7 999.7 L503.7 999.5 L506.7 999.3 L509.7 999.2 L512.7 999.1 L515.7 999.0 L518.7 998.9 L521.7 998.8 L524.7 998.7 L527.7 998.7 L530.7 998.6 L533.7 998.5 L536.7 998.4 L539.7 998.4 L542.7 998.3 L545.7 998.3 L548.7 998.2 L551.7 998.2 L554.7 998.1 L557.7 998.1 L560.7 998.1 L563.7 998.1 L566.7 998.1 L569.7 998.1 L572.7 998.2 L575.7 998.2 L578.7 998.3 L581.7 998.2 L584.7 998.1 L587.7 997.7 L590.5 996.7 L593.2 995.6 L596.1 995.2 L599.1 995.3 L602.1 995.6 L605.1 995.9 L608.1 996.3 L611.0 996.6 L614.0 996.9 L617.0 996.9 L620.0 996.5 L622.8 995.7 L625.6 994.5 L628.3 993.2 L631.1 992.3 L634.1 992.1 L636.9 993.0 L639.5 994.5 L642.1 995.9 L645.0 996.7 L648.0 997.0 L651.0 996.9 L654.0 996.7 L656.9 996.4 L659.9 996.0 L662.8 995.3 L665.6 994.3 L668.1 992.7 L670.2 990.5 L672.0 988.1 L673.9 985.9 L676.4 984.6 L679.2 985.0 L681.8 986.4 L684.5 987.6 L687.4 987.9 L690.3 987.2 L693.1 986.3 L696.0 985.6 L699.0 985.2 L702.0 984.8 L705.0 984.4 L707.9 983.9 L710.8 983.2 L713.6 982.2 L716.3 980.8 L719.0 979.4 L721.7 978.2 L724.5 977.2 L727.4 976.3 L730.2 975.4 L733.0 974.3 L735.7 973.0 L738.3 971.4 L740.8 969.7 L743.2 968.0 L745.6 966.2 L747.8 964.2 L749.9 962.0 L751.7 959.7 L753.5 957.3 L755.4 954.9 L757.2 952.5 L759.1 950.2 L761.1 948.0 L763.3 945.9 L765.6 944.0 L767.9 942.0 L770.1 940.0 L772.2 937.9 L773.9 935.5 L775.2 932.8 L776.3 930.0 L777.3 927.1 L778.3 924.3 L779.3 921.5 L780.2 918.6 L781.2 915.8 L782.1 912.9 L783.0 910.1 L783.8 907.2 L784.5 904.3 L785.2 901.3 L785.8 898.4 L786.4 895.5 L787.0 892.5 L787.6 889.6 L788.2 886.7 L789.0 883.7 L789.6 880.8 L790.0 877.8 L790.2 874.8 L790.3 871.9 L790.6 868.9 L791.0 865.9 L791.5 862.9 L792.1 860.0 L792.8 857.1 L793.4 854.1 L794.0 851.2 L794.6 848.3 L795.2 845.3 L795.7 842.4 L796.2 839.4 L796.6 836.4 L797.0 833.5 L797.5 830.5 L798.1 827.6 L798.7 824.6 L799.3 821.7 L799.8 818.7 L800.2 815.8 L800.6 812.8 L800.8 809.8 L801.1 806.8 L801.4 803.8 L801.7 800.8 L801.9 797.8 L802.3 794.9 L802.7 791.9 L803.2 788.9 L803.8 786.0 L804.5 783.1 L805.1 780.1 L805.7 777.2 L806.3 774.3 L806.9 771.3 L807.4 768.4 L807.7 765.4 L808.0 762.4 L808.3 759.4 L808.5 756.4 L808.8 753.4 L809.0 750.4 L809.4 747.4 L809.9 744.5 L810.6 741.6 L811.5 738.7 L812.6 736.0 L814.1 733.4 L816.4 731.7 L818.9 732.2 L820.8 734.4 L822.0 737.1 L822.8 740.0 L823.5 742.9 L824.2 745.8 L824.8 748.8 L825.4 751.7 L825.9 754.7 L826.4 757.6 L826.9 760.6 L827.3 763.5 L827.8 766.5 L828.3 769.5 L828.8 772.4 L829.4 775.4 L830.0 778.3 L830.6 781.2 L831.2 784.2 L831.8 787.1 L832.4 790.1 L833.0 793.0 L833.5 796.0 L833.9 798.9 L834.3 801.9 L834.7 804.9 L835.2 807.8 L835.6 810.8 L836.1 813.8 L836.6 816.7 L837.0 819.7 L837.4 822.7 L837.8 825.6 L838.3 828.6 L838.8 831.6 L839.4 834.5 L840.0 837.5 L840.6 840.4 L841.2 843.3 L841.8 846.3 L842.3 849.2 L842.9 852.2 L843.5 855.1 L844.1 858.0 L844.7 861.0 L845.3 863.9 L845.9 866.9 L846.5 869.8 L847.0 872.8 L847.6 875.7 L848.3 878.6 L849.0 881.5 L849.8 884.4 L850.6 887.3 L851.5 890.2 L852.5 893.0 L853.4 895.9 L854.5 898.7 L855.6 901.4 L857.1 904.1 L858.9 906.4 L861.1 908.4 L863.6 910.2 L866.0 911.9 L868.4 913.6 L871.0 915.1 L873.8 916.3 L876.7 917.2 L879.6 917.8 L882.3 917.3 L884.7 915.5 L886.9 913.5 L889.0 911.3 L890.9 909.0 L892.7 906.6 L894.4 904.1 L895.9 901.5 L897.2 898.8 L898.4 896.1 L899.4 893.3 L900.3 890.4 L901.1 887.5 L901.9 884.6 L902.5 881.7 L903.1 878.7 L903.6 875.8 L904.2 872.8 L904.8 869.9 L905.3 866.9 L905.9 864.0 L906.4 861.0 L906.9 858.1 L907.4 855.1 L907.8 852.1 L908.2 849.2 L908.7 846.2 L909.1 843.2 L909.5 840.3 L910.0 837.3 L910.6 834.4 L911.3 831.4 L911.9 828.5 L912.4 825.6 L912.8 822.6 L913.0 819.6 L913.3 816.6 L913.6 813.6 L914.0 810.6 L914.5 807.7 L914.9 804.7 L915.4 801.8 L915.7 798.8 L916.0 795.8 L916.3 792.8 L916.6 789.8 L916.9 786.8 L917.4 783.9 L917.8 780.9 L918.3 777.9 L918.7 775.0 L919.2 772.0 L919.7 769.0 L920.1 766.1 L920.5 763.1 L920.7 760.1 L921.0 757.1 L921.3 754.1 L921.8 751.2 L922.5 748.3 L923.4 745.4 L924.3 742.5 L925.2 739.7 L926.1 736.8 L927.0 734.0 L927.8 731.1 L928.9 728.4 L930.6 727.5 L932.1 729.5 L933.1 732.3 L933.9 735.2 L934.7 738.1 L935.4 741.0 L936.0 744.0 L936.5 746.9 L936.8 749.9 L937.1 752.9 L937.3 755.9 L937.4 758.9 L937.5 761.9 L937.7 764.9 L937.9 767.9 L938.2 770.9 L938.5 773.9 L938.8 776.8 L939.2 779.8 L939.5 782.8 L939.8 785.8 L940.0 788.8 L940.2 791.8 L940.3 794.8 L940.5 797.8 L940.6 800.8 L940.8 803.8 L940.9 806.8 L941.1 809.8 L941.3 812.8 L941.4 815.7 L941.6 818.7 L941.7 821.7 L941.9 824.7 L942.0 827.7 L942.2 830.7 L942.3 833.7 L942.4 836.7 L942.6 839.7 L942.7 842.7 L942.8 845.7 L943.0 848.7 L943.2 851.7 L943.5 854.7 L943.9 857.7 L944.1 860.7 L944.4 863.6 L944.5 866.6 L944.7 869.6 L944.8 872.6 L944.9 875.6 L945.1 878.6 L945.3 881.6 L945.4 884.6 L945.7 887.6 L945.9 890.6 L946.2 893.6 L946.5 896.6 L946.8 899.6 L947.1 902.5 L947.4 905.5 L947.7 908.5 L948.0 911.5 L948.3 914.5 L948.6 917.5 L948.9 920.5 L949.2 923.4 L949.4 926.4 L949.5 929.4 L949.7 932.4 L949.8 935.4 L950.1 938.4 L950.4 941.4 L950.9 944.4 L951.6 947.3 L952.5 950.1 L953.5 953.0 L954.6 955.7 L955.8 958.5 L957.0 961.2 L958.4 963.9 L959.8 966.5 L961.2 969.2 L962.5 971.9 L963.8 974.6 L965.3 977.2 L967.1 979.6 L969.4 981.5 L971.9 983.0 L974.4 984.6 L976.7 986.6 L978.8 988.7 L981.0 990.8 L983.3 992.7 L985.8 994.3 L988.6 995.4 L991.5 996.2 L994.4 996.8 L997.4 997.2 L1000.3 997.7 L1003.3 998.0 L1006.3 998.5 L1009.2 999.1 L1012.1 999.9 L1014.9 1001.1 L1017.7 1001.6 L1020.4 1000.8 L1022.7 998.9 L1025.1 997.2 L1027.9 996.2 L1030.8 995.7 L1033.8 995.5 L1036.8 995.5 L1039.8 995.5 L1042.8 995.6 L1045.8 995.6 L1048.8 995.7 L1051.8 995.8 L1054.8 995.9 L1057.8 995.9 L1060.8 995.9 L1063.8 995.8 L1066.8 995.8 L1069.8 995.7 L1072.8 995.7 L1075.8 995.6 L1078.8 995.6 L1081.8 995.5 L1084.8 995.5 L1087.8 995.6 L1090.8 995.6 L1093.8 995.8 L1096.8 996.2 L1099.7 996.8 L1102.6 997.7 L1105.2 999.1 L1107.7 1000.8 L1110.3 1002.2 L1113.1 1002.5 L1115.8 1001.5 L1118.1 999.5 L1120.2 997.4 L1122.4 995.4 L1124.9 993.8 L1127.6 992.6 L1130.5 991.8 L1133.5 991.4 L1136.5 991.2 L1139.5 991.1 L1142.5 991.1 L1145.5 991.2 L1148.5 991.3 L1151.5 991.5 L1154.5 991.7 L1157.5 991.9 L1160.5 992.1 L1163.4 992.3 L1166.4 992.6 L1169.4 992.8 L1172.4 993.0 L1175.4 993.2 L1178.4 993.4 L1181.4 993.6 L1184.4 993.7 L1187.4 993.8 L1190.4 993.9 L1193.4 993.9 L1196.4 993.9 L1199.4 993.8 L1202.4 993.8 L1205.4 993.6 L1208.4 993.5 L1211.4 993.4 L1214.4 993.2 L1217.4 993.1 L1220.4 993.0 L1223.4 992.8 L1226.4 992.7 L1229.4 992.7 L1232.4 992.6 L1235.4 992.6 L1238.4 992.6 L1241.4 992.6 L1244.4 992.7 L1247.4 992.8 L1250.4 992.9 L1253.4 993.1 L1256.4 993.2 L1259.4 993.4 L1262.4 993.6 L1265.3 993.8 L1268.3 994.0 L1271.3 994.2 L1274.3 994.3 L1277.3 994.5 L1280.3 994.7 L1283.3 994.9 L1286.3 995.0 L1289.3 995.2 L1292.3 995.3 L1295.3 995.4 L1298.3 995.5 L1301.3 995.6 L1304.3 995.6 L1307.3 995.6 L1310.3 995.6 L1313.3 995.6 L1316.3 995.6 L1319.3 995.6 L1322.3 995.6 L1325.3 995.6 L1328.3 995.5 L1331.3 995.5 L1334.3 995.4 L1337.3 995.3 L1340.3 995.3 L1343.3 995.2 L1346.3 995.1 L1349.3 994.9 L1352.3 994.8 L1355.3 994.6 L1358.3 994.5 L1361.3 994.2 L1364.3 994.0 L1367.2 993.7 L1370.2 993.3 L1373.2 992.7 L1376.1 992.0 L1378.9 991.1 L1381.8 990.1 L1384.5 989.0 L1387.4 988.0 L1390.3 987.2 L1393.2 986.5 L1396.1 985.8 L1399.0 985.1 L1401.9 984.5 L1404.9 984.0 L1407.9 983.6 L1410.9 983.3 L1413.9 983.2 L1416.9 983.1 L1419.9 983.1 L1422.9 983.1 L1425.9 983.2 L1428.9 983.3 L1431.9 983.4 L1434.9 983.5 L1437.9 983.7 L1440.8 983.8 L1443.8 984.0 L1446.8 984.2 L1449.8 984.3 L1452.8 984.5 L1455.8 984.6 L1458.8 984.8 L1461.8 984.9 L1464.8 985.1 L1467.8 985.2 L1470.8 985.4 L1473.8 985.5 L1476.8 985.8 L1479.8 986.0 L1482.8 986.2 L1485.8 986.4 L1488.8 986.6 L1491.8 986.7 L1494.8 986.8 L1497.8 986.7 L1500.8 986.5 L1503.7 986.2 L1506.7 985.5 L1509.5 984.7 L1512.3 983.6 L1515.0 982.3 L1517.7 980.9 L1520.4 979.6 L1523.1 978.2 L1525.8 977.1 L1528.7 976.3 L1531.6 975.7 L1534.6 975.3 L1537.6 975.2 L1540.6 975.2 L1543.6 975.6 L1546.5 976.1 L1549.4 976.9 L1552.2 978.1 L1554.8 979.5 L1557.4 981.0 L1560.0 982.5 L1562.6 983.9 L1565.4 985.2 L1568.2 986.3 L1571.0 987.3 L1573.8 988.3 L1576.7 989.2 L1579.5 990.2 L1582.4 991.0 L1585.3 991.9 L1588.1 992.7 L1591.0 993.5 L1593.9 994.2 L1596.9 994.9 L1599.8 995.4 L1602.8 996.0 L1605.7 996.5 L1608.7 997.1 L1611.6 997.7 L1614.5 998.3 L1617.5 998.9 L1620.4 999.5 L1623.4 1000.1 L1626.3 1000.6 L1629.3 1001.0 L1632.3 1001.3 L1635.3 1001.4 L1638.2 1001.2 L1641.1 1000.4 L1643.7 999.1 L1646.1 997.2 L1648.2 995.1 L1650.4 993.1 L1652.9 991.4 L1655.7 990.2 L1658.5 989.3 L1661.5 988.9 L1664.4 988.9 L1667.4 989.5 L1670.1 990.6 L1672.8 991.9 L1675.5 993.2 L1678.3 994.4 L1681.1 995.3 L1684.0 996.1 L1686.9 996.9 L1689.9 997.4 L1692.8 997.8 L1695.8 998.0 L1698.8 998.1 L1701.8 998.1 L1704.8 998.0 L1707.8 997.9 L1710.8 997.8 L1713.8 997.7 L1716.8 997.5 L1719.8 997.3 L1722.8 997.1 L1725.8 997.0 L1728.8 996.8 L1731.8 996.6 L1734.8 996.4 L1737.8 996.2 L1740.8 996.0 L1743.8 995.9 L1746.8 995.8 L1749.8 995.6 L1752.8 995.5 L1755.8 995.4 L1758.8 995.3 L1761.8 995.2 L1764.8 995.1 L1767.8 995.0 L1770.8 994.9 L1773.8 994.8 L1776.8 994.8 L1779.8 994.7 L1782.8 994.6 L1785.8 994.6 L1788.8 994.6 L1791.8 994.6 L1794.8 994.6 L1797.8 994.6 L1800.8 994.6 L1803.8 994.7 L1806.8 994.8 L1809.8 994.9 L1812.8 995.0 L1815.7 995.2 L1818.7 995.4 L1821.7 995.6 L1824.7 995.8 L1827.7 996.0 L1830.7 996.2 L1833.7 996.3 L1836.7 996.5 L1839.7 996.7 L1842.7 996.8 L1845.7 996.9 L1848.7 997.0 L1851.7 997.1 L1854.7 997.2 L1857.7 997.3 L1860.7 997.3 L1863.7 997.4 L1866.7 997.5 L1869.7 997.5 L1872.7 997.5 L1875.7 997.6 L1878.7 997.6 L1881.7 997.7 L1884.7 997.7 L1887.7 997.7 L1890.7 997.8 L1893.7 997.8 L1896.7 997.8 L1899.7 997.8 L1902.7 997.9 L1905.7 997.9 L1908.7 997.9 L1911.7 998.0 L1914.7 998.0 L1917.7 998.0 L1920.7 998.0 L1923.7 998.1 L1926.7 998.1 L1929.7 998.1 L1932.7 998.2 L1935.7 998.2 L1938.7 998.2 L1941.7 998.3 L1944.7 998.3 L1947.7 998.3 L1950.7 998.3 L1953.7 998.4 L1956.7 998.4 L1959.7 998.4 L1962.7 998.4 L1965.7 998.5 L1968.7 998.5 L1971.7 998.5 L1974.7 998.5 L1977.7 998.6 L1980.7 998.6 L1983.7 998.6 L1986.7 998.6 L1989.7 998.7 L1992.7 998.7 L1995.7 998.7 L1998.7 998.7 L2001.7 998.8 L2004.7 998.8 L2007.7 998.8 L2010.7 998.8 L2013.7 998.9 L2016.7 998.9 L2019.7 998.9" fill="none" stroke="#1414f0" stroke-width="4.6" stroke-linejoin="round" stroke-linecap="round"/>
<path d="M297.5 1164.0 L300.5 1163.9 L303.5 1163.9 L306.5 1163.9 L309.5 1163.8 L312.5 1163.8 L315.5 1163.7 L318.5 1163.7 L321.5 1163.6 L324.5 1163.5 L327.5 1163.5 L330.5 1163.4 L333.5 1163.3 L336.5 1163.1 L339.5 1163.0 L342.5 1162.8 L345.5 1162.5 L348.5 1162.2 L351.4 1161.9 L354.4 1161.4 L357.4 1160.9 L360.3 1160.5 L363.3 1159.9 L366.2 1159.5 L369.2 1159.0 L372.2 1158.6 L375.2 1158.3 L378.2 1158.0 L381.1 1157.8 L384.1 1157.5 L387.1 1157.3 L390.1 1157.1 L393.1 1157.0 L396.1 1156.8 L399.1 1156.7 L402.1 1156.6 L405.1 1156.5 L408.1 1156.5 L411.1 1156.5 L414.1 1156.6 L417.1 1156.7 L420.1 1156.9 L423.1 1157.1 L426.1 1157.3 L429.1 1157.6 L432.1 1157.9 L435.0 1158.2 L438.0 1158.7 L441.0 1159.2 L443.8 1160.1 L446.4 1161.6 L449.1 1162.9 L451.9 1163.6 L454.9 1163.9 L457.9 1164.1 L460.9 1164.1 L463.9 1164.1 L466.9 1164.0 L469.9 1163.9 L472.9 1163.8 L475.9 1163.7 L478.9 1163.6 L481.9 1163.5 L484.9 1163.4 L487.9 1163.2 L490.9 1163.1 L493.9 1163.0 L496.9 1162.9 L499.9 1162.9 L502.9 1162.8 L505.9 1162.8 L508.9 1162.8 L511.9 1162.9 L514.9 1162.9 L517.9 1163.0 L520.9 1163.1 L523.9 1163.2 L526.9 1163.3 L529.9 1163.4 L532.9 1163.5 L535.9 1163.7 L538.9 1163.8 L541.9 1163.8 L544.9 1163.9 L547.9 1164.0 L550.9 1164.0 L553.9 1164.0 L556.9 1164.0 L559.9 1163.9 L562.9 1163.7 L565.9 1163.5 L568.9 1163.3 L571.9 1163.0 L574.8 1162.7 L577.8 1162.4 L580.8 1162.1 L583.8 1161.9 L586.8 1161.7 L589.8 1161.6 L592.8 1161.5 L595.8 1161.5 L598.8 1161.5 L601.8 1161.6 L604.8 1161.7 L607.8 1161.8 L610.8 1161.9 L613.8 1162.0 L616.8 1162.2 L619.8 1162.3 L622.8 1162.4 L625.8 1162.6 L628.8 1162.7 L631.8 1162.8 L634.8 1162.8 L637.8 1162.8 L640.8 1162.8 L643.8 1162.8 L646.8 1162.6 L649.8 1162.4 L652.8 1162.2 L655.7 1161.9 L658.7 1161.6 L661.7 1161.2 L664.7 1160.8 L667.7 1160.5 L670.6 1160.1 L673.6 1159.7 L676.6 1159.4 L679.6 1159.1 L682.6 1158.9 L685.6 1158.8 L688.6 1158.8 L691.6 1158.8 L694.6 1158.9 L697.6 1158.9 L700.6 1159.0 L703.6 1158.8 L706.5 1158.5 L709.5 1157.9 L712.3 1157.0 L715.2 1156.1 L718.0 1155.2 L720.9 1154.3 L723.8 1153.5 L726.7 1152.6 L729.5 1151.7 L732.4 1150.8 L735.3 1150.0 L738.1 1149.1 L741.0 1148.2 L743.8 1147.2 L746.6 1145.9 L749.2 1144.5 L751.7 1142.8 L754.3 1141.3 L757.0 1140.0 L759.7 1138.7 L762.2 1137.2 L764.6 1135.3 L766.8 1133.3 L769.0 1131.3 L771.2 1129.2 L773.3 1127.0 L775.2 1124.7 L776.9 1122.3 L778.4 1119.7 L779.9 1117.1 L781.2 1114.4 L782.4 1111.6 L783.5 1108.8 L784.6 1106.1 L785.7 1103.3 L786.8 1100.5 L787.8 1097.6 L788.8 1094.8 L789.7 1092.0 L790.6 1089.1 L791.4 1086.2 L792.1 1083.3 L792.8 1080.3 L793.5 1077.4 L794.2 1074.5 L794.8 1071.6 L795.5 1068.7 L796.1 1065.7 L796.7 1062.8 L797.3 1059.8 L797.8 1056.9 L798.3 1053.9 L798.8 1051.0 L799.3 1048.0 L799.8 1045.1 L800.4 1042.1 L800.9 1039.2 L801.5 1036.2 L802.1 1033.3 L802.7 1030.3 L803.4 1027.4 L804.0 1024.5 L804.7 1021.6 L805.6 1018.7 L806.9 1016.0 L808.4 1013.4 L810.3 1011.1 L812.5 1009.0 L814.9 1007.3 L817.7 1006.8 L820.3 1007.9 L822.3 1010.1 L823.8 1012.7 L825.0 1015.4 L826.0 1018.2 L826.9 1021.1 L827.7 1024.0 L828.6 1026.9 L829.4 1029.8 L830.1 1032.7 L830.8 1035.6 L831.5 1038.5 L832.2 1041.4 L832.9 1044.3 L833.6 1047.2 L834.3 1050.2 L835.0 1053.1 L835.8 1056.0 L836.5 1058.9 L837.4 1061.8 L838.3 1064.6 L839.2 1067.5 L840.2 1070.3 L841.2 1073.1 L842.3 1075.9 L843.4 1078.7 L844.5 1081.5 L845.6 1084.3 L846.8 1087.0 L848.1 1089.8 L849.4 1092.5 L850.8 1095.1 L852.3 1097.7 L853.9 1100.2 L855.7 1102.7 L857.5 1105.1 L859.4 1107.4 L861.4 1109.6 L863.8 1111.4 L866.4 1112.8 L869.2 1113.9 L872.1 1114.8 L875.0 1115.3 L878.0 1115.4 L880.9 1115.0 L883.8 1114.2 L886.7 1113.3 L889.6 1112.4 L892.4 1111.4 L894.9 1109.8 L896.8 1107.6 L898.2 1105.0 L899.3 1102.2 L900.2 1099.3 L901.1 1096.4 L901.9 1093.5 L902.7 1090.6 L903.4 1087.7 L904.1 1084.8 L904.8 1081.9 L905.5 1079.0 L906.2 1076.1 L906.9 1073.1 L907.7 1070.2 L908.4 1067.3 L909.1 1064.4 L909.8 1061.5 L910.6 1058.6 L911.3 1055.7 L912.1 1052.8 L912.8 1049.9 L913.5 1047.0 L914.2 1044.0 L914.9 1041.1 L915.4 1038.2 L916.0 1035.2 L916.5 1032.3 L917.1 1029.3 L917.7 1026.4 L918.5 1023.5 L919.2 1020.6 L920.1 1017.7 L921.1 1014.9 L922.4 1012.2 L924.0 1009.7 L926.0 1007.5 L928.5 1006.5 L930.9 1007.7 L932.5 1010.1 L933.8 1012.8 L934.9 1015.6 L935.8 1018.5 L936.6 1021.4 L937.2 1024.3 L937.7 1027.2 L938.1 1030.2 L938.4 1033.2 L938.6 1036.2 L938.9 1039.2 L939.1 1042.2 L939.4 1045.2 L939.7 1048.1 L940.0 1051.1 L940.3 1054.1 L940.6 1057.1 L940.9 1060.1 L941.2 1063.1 L941.5 1066.1 L941.8 1069.0 L942.1 1072.0 L942.4 1075.0 L942.7 1078.0 L943.0 1081.0 L943.3 1084.0 L943.6 1087.0 L943.8 1089.9 L944.1 1092.9 L944.4 1095.9 L944.7 1098.9 L945.0 1101.9 L945.3 1104.9 L945.5 1107.9 L945.9 1110.9 L946.3 1113.8 L946.7 1116.8 L947.3 1119.7 L947.9 1122.7 L948.6 1125.6 L949.4 1128.5 L950.2 1131.4 L950.9 1134.3 L951.8 1137.1 L952.9 1139.9 L954.3 1142.6 L956.1 1145.0 L958.2 1147.1 L960.5 1148.9 L963.1 1150.5 L965.7 1152.0 L968.4 1153.4 L971.1 1154.7 L973.8 1155.9 L976.6 1157.0 L979.4 1158.1 L982.3 1159.0 L985.1 1159.8 L988.1 1160.5 L991.0 1161.1 L993.9 1161.7 L996.9 1162.2 L999.9 1162.6 L1002.8 1163.0 L1005.8 1163.4 L1008.8 1163.8 L1011.8 1164.1 L1014.8 1164.4 L1017.7 1164.6 L1020.7 1164.6 L1023.5 1163.7 L1026.4 1162.9 L1029.3 1162.7 L1032.3 1162.7 L1035.3 1162.7 L1038.3 1162.7 L1041.3 1162.8 L1044.3 1162.8 L1047.3 1162.9 L1050.3 1163.0 L1053.3 1163.1 L1056.3 1163.1 L1059.3 1163.2 L1062.3 1163.2 L1065.3 1163.3 L1068.3 1163.3 L1071.3 1163.3 L1074.3 1163.2 L1077.3 1163.1 L1080.3 1163.0 L1083.3 1162.8 L1086.3 1162.7 L1089.3 1162.6 L1092.3 1162.5 L1095.3 1162.5 L1098.3 1162.4 L1101.3 1162.3 L1104.3 1162.2 L1107.3 1162.1 L1110.3 1162.1 L1113.3 1162.0 L1116.3 1161.9 L1119.3 1161.9 L1122.3 1161.8 L1125.3 1161.7 L1128.3 1161.6 L1131.3 1161.6 L1134.3 1161.5 L1137.3 1161.5 L1140.3 1161.4 L1143.3 1161.3 L1146.3 1161.3 L1149.3 1161.2 L1152.3 1161.1 L1155.3 1161.1 L1158.3 1161.0 L1161.3 1160.9 L1164.3 1160.9 L1167.3 1160.8 L1170.3 1160.8 L1173.3 1160.7 L1176.3 1160.6 L1179.3 1160.6 L1182.3 1160.5 L1185.3 1160.5 L1188.3 1160.4 L1191.3 1160.4 L1194.3 1160.3 L1197.3 1160.3 L1200.3 1160.2 L1203.3 1160.2 L1206.3 1160.2 L1209.3 1160.1 L1212.3 1160.1 L1215.3 1160.1 L1218.3 1160.1 L1221.3 1160.1 L1224.3 1160.1 L1227.3 1160.1 L1230.3 1160.1 L1233.3 1160.1 L1236.3 1160.1 L1239.3 1160.1 L1242.3 1160.1 L1245.3 1160.1 L1248.3 1160.2 L1251.3 1160.2 L1254.3 1160.2 L1257.3 1160.2 L1260.3 1160.3 L1263.3 1160.3 L1266.3 1160.3 L1269.3 1160.4 L1272.3 1160.4 L1275.3 1160.4 L1278.3 1160.5 L1281.3 1160.5 L1284.3 1160.5 L1287.3 1160.6 L1290.3 1160.6 L1293.3 1160.6 L1296.3 1160.7 L1299.3 1160.8 L1302.3 1160.8 L1305.3 1160.9 L1308.3 1161.0 L1311.3 1161.1 L1314.3 1161.2 L1317.3 1161.3 L1320.3 1161.4 L1323.3 1161.5 L1326.3 1161.6 L1329.3 1161.6 L1332.3 1161.6 L1335.3 1161.6 L1338.3 1161.5 L1341.3 1161.3 L1344.3 1161.2 L1347.3 1160.9 L1350.3 1160.6 L1353.3 1160.3 L1356.2 1159.9 L1359.2 1159.5 L1362.2 1159.1 L1365.1 1158.6 L1368.1 1158.1 L1371.0 1157.6 L1374.0 1157.0 L1376.9 1156.5 L1379.9 1155.9 L1382.8 1155.3 L1385.7 1154.6 L1388.6 1153.8 L1391.5 1153.0 L1394.4 1152.1 L1397.3 1151.4 L1400.2 1150.7 L1403.2 1150.1 L1406.1 1149.6 L1409.1 1149.1 L1412.0 1148.6 L1415.0 1148.2 L1418.0 1147.9 L1421.0 1147.7 L1424.0 1147.6 L1427.0 1147.6 L1430.0 1147.7 L1433.0 1147.9 L1436.0 1148.1 L1439.0 1148.5 L1441.9 1148.8 L1444.9 1149.2 L1447.9 1149.6 L1450.9 1150.0 L1453.8 1150.3 L1456.8 1150.6 L1459.8 1150.9 L1462.8 1151.1 L1465.8 1151.3 L1468.8 1151.4 L1471.8 1151.4 L1474.8 1151.4 L1477.8 1151.4 L1480.8 1151.4 L1483.8 1151.3 L1486.8 1151.2 L1489.8 1151.1 L1492.8 1150.9 L1495.8 1150.7 L1498.8 1150.5 L1501.8 1150.2 L1504.7 1149.9 L1507.7 1149.3 L1510.6 1148.5 L1513.4 1147.5 L1516.2 1146.4 L1519.1 1145.5 L1522.0 1144.9 L1524.9 1144.3 L1527.9 1143.7 L1530.8 1143.2 L1533.8 1142.8 L1536.8 1142.5 L1539.8 1142.5 L1542.8 1142.7 L1545.7 1143.3 L1548.6 1144.1 L1551.4 1145.2 L1554.1 1146.5 L1556.8 1147.7 L1559.6 1148.9 L1562.4 1150.0 L1565.2 1151.0 L1568.0 1152.0 L1570.9 1152.9 L1573.8 1153.7 L1576.7 1154.4 L1579.6 1155.0 L1582.6 1155.5 L1585.5 1156.0 L1588.5 1156.4 L1591.5 1156.8 L1594.5 1157.2 L1597.4 1157.5 L1600.4 1157.8 L1603.4 1158.1 L1606.4 1158.4 L1609.4 1158.7 L1612.4 1158.9 L1615.4 1159.1 L1618.4 1159.2 L1621.4 1159.3 L1624.4 1159.4 L1627.4 1159.4 L1630.4 1159.4 L1633.4 1159.3 L1636.4 1159.2 L1639.4 1159.0 L1642.3 1158.6 L1645.3 1158.0 L1648.2 1157.3 L1651.1 1156.5 L1654.0 1155.7 L1656.9 1155.0 L1659.9 1154.7 L1662.8 1154.9 L1665.8 1155.5 L1668.6 1156.5 L1671.4 1157.6 L1674.2 1158.6 L1677.1 1159.4 L1680.0 1160.3 L1682.8 1161.2 L1685.7 1162.1 L1688.5 1163.0 L1691.4 1163.8 L1694.3 1164.5 L1697.3 1165.1 L1700.2 1165.5 L1703.2 1165.8 L1706.2 1165.8 L1709.2 1165.7 L1712.2 1165.5 L1715.2 1165.1 L1718.2 1164.8 L1721.2 1164.4 L1724.1 1164.0 L1727.1 1163.6 L1730.0 1163.0 L1732.9 1162.3 L1735.8 1161.5 L1738.8 1160.9 L1741.8 1160.6 L1744.8 1160.3 L1747.8 1160.2 L1750.8 1160.1 L1753.8 1160.1 L1756.8 1160.1 L1759.8 1160.2 L1762.8 1160.2 L1765.8 1160.3 L1768.8 1160.4 L1771.7 1160.5 L1774.7 1160.6 L1777.7 1160.7 L1780.7 1160.9 L1783.7 1161.0 L1786.7 1161.1 L1789.7 1161.2 L1792.7 1161.4 L1795.7 1161.5 L1798.7 1161.6 L1801.7 1161.7 L1804.7 1161.9 L1807.7 1162.0 L1810.7 1162.1 L1813.7 1162.2 L1816.7 1162.3 L1819.7 1162.4 L1822.7 1162.5 L1825.7 1162.6 L1828.7 1162.7 L1831.7 1162.7 L1834.7 1162.8 L1837.7 1162.9 L1840.7 1162.9 L1843.7 1163.0 L1846.7 1163.0 L1849.7 1163.1 L1852.7 1163.1 L1855.7 1163.2 L1858.7 1163.2 L1861.7 1163.3 L1864.7 1163.3 L1867.7 1163.4 L1870.7 1163.4 L1873.7 1163.4 L1876.7 1163.5 L1879.7 1163.5 L1882.7 1163.6 L1885.7 1163.6 L1888.7 1163.7 L1891.7 1163.7 L1894.7 1163.8 L1897.7 1163.8 L1900.7 1163.9 L1903.7 1164.0 L1906.7 1164.0 L1909.7 1164.1 L1912.7 1164.1 L1915.7 1164.2 L1918.7 1164.3 L1921.7 1164.3 L1924.7 1164.4 L1927.7 1164.4 L1930.7 1164.5 L1933.7 1164.6 L1936.7 1164.6 L1939.7 1164.7 L1942.7 1164.8 L1945.7 1164.8 L1948.7 1164.9 L1951.7 1165.0 L1954.7 1165.0 L1957.7 1165.1 L1960.7 1165.1 L1963.7 1165.2 L1966.7 1165.3 L1969.7 1165.3 L1972.7 1165.4 L1975.7 1165.5 L1978.7 1165.5 L1981.7 1165.6 L1984.7 1165.7 L1987.7 1165.7 L1990.7 1165.8 L1993.7 1165.8 L1996.7 1165.9 L1999.7 1166.0 L2002.7 1166.0 L2005.7 1166.1 L2008.7 1166.2 L2011.7 1166.2 L2014.7 1166.3 L2017.6 1166.4 L2019.7 1166.4" fill="none" stroke="#ee1a26" stroke-opacity="0.3" stroke-width="8.6" stroke-linejoin="round" stroke-linecap="round"/>
<path d="M297.5 1164.0 L300.5 1163.9 L303.5 1163.9 L306.5 1163.9 L309.5 1163.8 L312.5 1163.8 L315.5 1163.7 L318.5 1163.7 L321.5 1163.6 L324.5 1163.5 L327.5 1163.5 L330.5 1163.4 L333.5 1163.3 L336.5 1163.1 L339.5 1163.0 L342.5 1162.8 L345.5 1162.5 L348.5 1162.2 L351.4 1161.9 L354.4 1161.4 L357.4 1160.9 L360.3 1160.5 L363.3 1159.9 L366.2 1159.5 L369.2 1159.0 L372.2 1158.6 L375.2 1158.3 L378.2 1158.0 L381.1 1157.8 L384.1 1157.5 L387.1 1157.3 L390.1 1157.1 L393.1 1157.0 L396.1 1156.8 L399.1 1156.7 L402.1 1156.6 L405.1 1156.5 L408.1 1156.5 L411.1 1156.5 L414.1 1156.6 L417.1 1156.7 L420.1 1156.9 L423.1 1157.1 L426.1 1157.3 L429.1 1157.6 L432.1 1157.9 L435.0 1158.2 L438.0 1158.7 L441.0 1159.2 L443.8 1160.1 L446.4 1161.6 L449.1 1162.9 L451.9 1163.6 L454.9 1163.9 L457.9 1164.1 L460.9 1164.1 L463.9 1164.1 L466.9 1164.0 L469.9 1163.9 L472.9 1163.8 L475.9 1163.7 L478.9 1163.6 L481.9 1163.5 L484.9 1163.4 L487.9 1163.2 L490.9 1163.1 L493.9 1163.0 L496.9 1162.9 L499.9 1162.9 L502.9 1162.8 L505.9 1162.8 L508.9 1162.8 L511.9 1162.9 L514.9 1162.9 L517.9 1163.0 L520.9 1163.1 L523.9 1163.2 L526.9 1163.3 L529.9 1163.4 L532.9 1163.5 L535.9 1163.7 L538.9 1163.8 L541.9 1163.8 L544.9 1163.9 L547.9 1164.0 L550.9 1164.0 L553.9 1164.0 L556.9 1164.0 L559.9 1163.9 L562.9 1163.7 L565.9 1163.5 L568.9 1163.3 L571.9 1163.0 L574.8 1162.7 L577.8 1162.4 L580.8 1162.1 L583.8 1161.9 L586.8 1161.7 L589.8 1161.6 L592.8 1161.5 L595.8 1161.5 L598.8 1161.5 L601.8 1161.6 L604.8 1161.7 L607.8 1161.8 L610.8 1161.9 L613.8 1162.0 L616.8 1162.2 L619.8 1162.3 L622.8 1162.4 L625.8 1162.6 L628.8 1162.7 L631.8 1162.8 L634.8 1162.8 L637.8 1162.8 L640.8 1162.8 L643.8 1162.8 L646.8 1162.6 L649.8 1162.4 L652.8 1162.2 L655.7 1161.9 L658.7 1161.6 L661.7 1161.2 L664.7 1160.8 L667.7 1160.5 L670.6 1160.1 L673.6 1159.7 L676.6 1159.4 L679.6 1159.1 L682.6 1158.9 L685.6 1158.8 L688.6 1158.8 L691.6 1158.8 L694.6 1158.9 L697.6 1158.9 L700.6 1159.0 L703.6 1158.8 L706.5 1158.5 L709.5 1157.9 L712.3 1157.0 L715.2 1156.1 L718.0 1155.2 L720.9 1154.3 L723.8 1153.5 L726.7 1152.6 L729.5 1151.7 L732.4 1150.8 L735.3 1150.0 L738.1 1149.1 L741.0 1148.2 L743.8 1147.2 L746.6 1145.9 L749.2 1144.5 L751.7 1142.8 L754.3 1141.3 L757.0 1140.0 L759.7 1138.7 L762.2 1137.2 L764.6 1135.3 L766.8 1133.3 L769.0 1131.3 L771.2 1129.2 L773.3 1127.0 L775.2 1124.7 L776.9 1122.3 L778.4 1119.7 L779.9 1117.1 L781.2 1114.4 L782.4 1111.6 L783.5 1108.8 L784.6 1106.1 L785.7 1103.3 L786.8 1100.5 L787.8 1097.6 L788.8 1094.8 L789.7 1092.0 L790.6 1089.1 L791.4 1086.2 L792.1 1083.3 L792.8 1080.3 L793.5 1077.4 L794.2 1074.5 L794.8 1071.6 L795.5 1068.7 L796.1 1065.7 L796.7 1062.8 L797.3 1059.8 L797.8 1056.9 L798.3 1053.9 L798.8 1051.0 L799.3 1048.0 L799.8 1045.1 L800.4 1042.1 L800.9 1039.2 L801.5 1036.2 L802.1 1033.3 L802.7 1030.3 L803.4 1027.4 L804.0 1024.5 L804.7 1021.6 L805.6 1018.7 L806.9 1016.0 L808.4 1013.4 L810.3 1011.1 L812.5 1009.0 L814.9 1007.3 L817.7 1006.8 L820.3 1007.9 L822.3 1010.1 L823.8 1012.7 L825.0 1015.4 L826.0 1018.2 L826.9 1021.1 L827.7 1024.0 L828.6 1026.9 L829.4 1029.8 L830.1 1032.7 L830.8 1035.6 L831.5 1038.5 L832.2 1041.4 L832.9 1044.3 L833.6 1047.2 L834.3 1050.2 L835.0 1053.1 L835.8 1056.0 L836.5 1058.9 L837.4 1061.8 L838.3 1064.6 L839.2 1067.5 L840.2 1070.3 L841.2 1073.1 L842.3 1075.9 L843.4 1078.7 L844.5 1081.5 L845.6 1084.3 L846.8 1087.0 L848.1 1089.8 L849.4 1092.5 L850.8 1095.1 L852.3 1097.7 L853.9 1100.2 L855.7 1102.7 L857.5 1105.1 L859.4 1107.4 L861.4 1109.6 L863.8 1111.4 L866.4 1112.8 L869.2 1113.9 L872.1 1114.8 L875.0 1115.3 L878.0 1115.4 L880.9 1115.0 L883.8 1114.2 L886.7 1113.3 L889.6 1112.4 L892.4 1111.4 L894.9 1109.8 L896.8 1107.6 L898.2 1105.0 L899.3 1102.2 L900.2 1099.3 L901.1 1096.4 L901.9 1093.5 L902.7 1090.6 L903.4 1087.7 L904.1 1084.8 L904.8 1081.9 L905.5 1079.0 L906.2 1076.1 L906.9 1073.1 L907.7 1070.2 L908.4 1067.3 L909.1 1064.4 L909.8 1061.5 L910.6 1058.6 L911.3 1055.7 L912.1 1052.8 L912.8 1049.9 L913.5 1047.0 L914.2 1044.0 L914.9 1041.1 L915.4 1038.2 L916.0 1035.2 L916.5 1032.3 L917.1 1029.3 L917.7 1026.4 L918.5 1023.5 L919.2 1020.6 L920.1 1017.7 L921.1 1014.9 L922.4 1012.2 L924.0 1009.7 L926.0 1007.5 L928.5 1006.5 L930.9 1007.7 L932.5 1010.1 L933.8 1012.8 L934.9 1015.6 L935.8 1018.5 L936.6 1021.4 L937.2 1024.3 L937.7 1027.2 L938.1 1030.2 L938.4 1033.2 L938.6 1036.2 L938.9 1039.2 L939.1 1042.2 L939.4 1045.2 L939.7 1048.1 L940.0 1051.1 L940.3 1054.1 L940.6 1057.1 L940.9 1060.1 L941.2 1063.1 L941.5 1066.1 L941.8 1069.0 L942.1 1072.0 L942.4 1075.0 L942.7 1078.0 L943.0 1081.0 L943.3 1084.0 L943.6 1087.0 L943.8 1089.9 L944.1 1092.9 L944.4 1095.9 L944.7 1098.9 L945.0 1101.9 L945.3 1104.9 L945.5 1107.9 L945.9 1110.9 L946.3 1113.8 L946.7 1116.8 L947.3 1119.7 L947.9 1122.7 L948.6 1125.6 L949.4 1128.5 L950.2 1131.4 L950.9 1134.3 L951.8 1137.1 L952.9 1139.9 L954.3 1142.6 L956.1 1145.0 L958.2 1147.1 L960.5 1148.9 L963.1 1150.5 L965.7 1152.0 L968.4 1153.4 L971.1 1154.7 L973.8 1155.9 L976.6 1157.0 L979.4 1158.1 L982.3 1159.0 L985.1 1159.8 L988.1 1160.5 L991.0 1161.1 L993.9 1161.7 L996.9 1162.2 L999.9 1162.6 L1002.8 1163.0 L1005.8 1163.4 L1008.8 1163.8 L1011.8 1164.1 L1014.8 1164.4 L1017.7 1164.6 L1020.7 1164.6 L1023.5 1163.7 L1026.4 1162.9 L1029.3 1162.7 L1032.3 1162.7 L1035.3 1162.7 L1038.3 1162.7 L1041.3 1162.8 L1044.3 1162.8 L1047.3 1162.9 L1050.3 1163.0 L1053.3 1163.1 L1056.3 1163.1 L1059.3 1163.2 L1062.3 1163.2 L1065.3 1163.3 L1068.3 1163.3 L1071.3 1163.3 L1074.3 1163.2 L1077.3 1163.1 L1080.3 1163.0 L1083.3 1162.8 L1086.3 1162.7 L1089.3 1162.6 L1092.3 1162.5 L1095.3 1162.5 L1098.3 1162.4 L1101.3 1162.3 L1104.3 1162.2 L1107.3 1162.1 L1110.3 1162.1 L1113.3 1162.0 L1116.3 1161.9 L1119.3 1161.9 L1122.3 1161.8 L1125.3 1161.7 L1128.3 1161.6 L1131.3 1161.6 L1134.3 1161.5 L1137.3 1161.5 L1140.3 1161.4 L1143.3 1161.3 L1146.3 1161.3 L1149.3 1161.2 L1152.3 1161.1 L1155.3 1161.1 L1158.3 1161.0 L1161.3 1160.9 L1164.3 1160.9 L1167.3 1160.8 L1170.3 1160.8 L1173.3 1160.7 L1176.3 1160.6 L1179.3 1160.6 L1182.3 1160.5 L1185.3 1160.5 L1188.3 1160.4 L1191.3 1160.4 L1194.3 1160.3 L1197.3 1160.3 L1200.3 1160.2 L1203.3 1160.2 L1206.3 1160.2 L1209.3 1160.1 L1212.3 1160.1 L1215.3 1160.1 L1218.3 1160.1 L1221.3 1160.1 L1224.3 1160.1 L1227.3 1160.1 L1230.3 1160.1 L1233.3 1160.1 L1236.3 1160.1 L1239.3 1160.1 L1242.3 1160.1 L1245.3 1160.1 L1248.3 1160.2 L1251.3 1160.2 L1254.3 1160.2 L1257.3 1160.2 L1260.3 1160.3 L1263.3 1160.3 L1266.3 1160.3 L1269.3 1160.4 L1272.3 1160.4 L1275.3 1160.4 L1278.3 1160.5 L1281.3 1160.5 L1284.3 1160.5 L1287.3 1160.6 L1290.3 1160.6 L1293.3 1160.6 L1296.3 1160.7 L1299.3 1160.8 L1302.3 1160.8 L1305.3 1160.9 L1308.3 1161.0 L1311.3 1161.1 L1314.3 1161.2 L1317.3 1161.3 L1320.3 1161.4 L1323.3 1161.5 L1326.3 1161.6 L1329.3 1161.6 L1332.3 1161.6 L1335.3 1161.6 L1338.3 1161.5 L1341.3 1161.3 L1344.3 1161.2 L1347.3 1160.9 L1350.3 1160.6 L1353.3 1160.3 L1356.2 1159.9 L1359.2 1159.5 L1362.2 1159.1 L1365.1 1158.6 L1368.1 1158.1 L1371.0 1157.6 L1374.0 1157.0 L1376.9 1156.5 L1379.9 1155.9 L1382.8 1155.3 L1385.7 1154.6 L1388.6 1153.8 L1391.5 1153.0 L1394.4 1152.1 L1397.3 1151.4 L1400.2 1150.7 L1403.2 1150.1 L1406.1 1149.6 L1409.1 1149.1 L1412.0 1148.6 L1415.0 1148.2 L1418.0 1147.9 L1421.0 1147.7 L1424.0 1147.6 L1427.0 1147.6 L1430.0 1147.7 L1433.0 1147.9 L1436.0 1148.1 L1439.0 1148.5 L1441.9 1148.8 L1444.9 1149.2 L1447.9 1149.6 L1450.9 1150.0 L1453.8 1150.3 L1456.8 1150.6 L1459.8 1150.9 L1462.8 1151.1 L1465.8 1151.3 L1468.8 1151.4 L1471.8 1151.4 L1474.8 1151.4 L1477.8 1151.4 L1480.8 1151.4 L1483.8 1151.3 L1486.8 1151.2 L1489.8 1151.1 L1492.8 1150.9 L1495.8 1150.7 L1498.8 1150.5 L1501.8 1150.2 L1504.7 1149.9 L1507.7 1149.3 L1510.6 1148.5 L1513.4 1147.5 L1516.2 1146.4 L1519.1 1145.5 L1522.0 1144.9 L1524.9 1144.3 L1527.9 1143.7 L1530.8 1143.2 L1533.8 1142.8 L1536.8 1142.5 L1539.8 1142.5 L1542.8 1142.7 L1545.7 1143.3 L1548.6 1144.1 L1551.4 1145.2 L1554.1 1146.5 L1556.8 1147.7 L1559.6 1148.9 L1562.4 1150.0 L1565.2 1151.0 L1568.0 1152.0 L1570.9 1152.9 L1573.8 1153.7 L1576.7 1154.4 L1579.6 1155.0 L1582.6 1155.5 L1585.5 1156.0 L1588.5 1156.4 L1591.5 1156.8 L1594.5 1157.2 L1597.4 1157.5 L1600.4 1157.8 L1603.4 1158.1 L1606.4 1158.4 L1609.4 1158.7 L1612.4 1158.9 L1615.4 1159.1 L1618.4 1159.2 L1621.4 1159.3 L1624.4 1159.4 L1627.4 1159.4 L1630.4 1159.4 L1633.4 1159.3 L1636.4 1159.2 L1639.4 1159.0 L1642.3 1158.6 L1645.3 1158.0 L1648.2 1157.3 L1651.1 1156.5 L1654.0 1155.7 L1656.9 1155.0 L1659.9 1154.7 L1662.8 1154.9 L1665.8 1155.5 L1668.6 1156.5 L1671.4 1157.6 L1674.2 1158.6 L1677.1 1159.4 L1680.0 1160.3 L1682.8 1161.2 L1685.7 1162.1 L1688.5 1163.0 L1691.4 1163.8 L1694.3 1164.5 L1697.3 1165.1 L1700.2 1165.5 L1703.2 1165.8 L1706.2 1165.8 L1709.2 1165.7 L1712.2 1165.5 L1715.2 1165.1 L1718.2 1164.8 L1721.2 1164.4 L1724.1 1164.0 L1727.1 1163.6 L1730.0 1163.0 L1732.9 1162.3 L1735.8 1161.5 L1738.8 1160.9 L1741.8 1160.6 L1744.8 1160.3 L1747.8 1160.2 L1750.8 1160.1 L1753.8 1160.1 L1756.8 1160.1 L1759.8 1160.2 L1762.8 1160.2 L1765.8 1160.3 L1768.8 1160.4 L1771.7 1160.5 L1774.7 1160.6 L1777.7 1160.7 L1780.7 1160.9 L1783.7 1161.0 L1786.7 1161.1 L1789.7 1161.2 L1792.7 1161.4 L1795.7 1161.5 L1798.7 1161.6 L1801.7 1161.7 L1804.7 1161.9 L1807.7 1162.0 L1810.7 1162.1 L1813.7 1162.2 L1816.7 1162.3 L1819.7 1162.4 L1822.7 1162.5 L1825.7 1162.6 L1828.7 1162.7 L1831.7 1162.7 L1834.7 1162.8 L1837.7 1162.9 L1840.7 1162.9 L1843.7 1163.0 L1846.7 1163.0 L1849.7 1163.1 L1852.7 1163.1 L1855.7 1163.2 L1858.7 1163.2 L1861.7 1163.3 L1864.7 1163.3 L1867.7 1163.4 L1870.7 1163.4 L1873.7 1163.4 L1876.7 1163.5 L1879.7 1163.5 L1882.7 1163.6 L1885.7 1163.6 L1888.7 1163.7 L1891.7 1163.7 L1894.7 1163.8 L1897.7 1163.8 L1900.7 1163.9 L1903.7 1164.0 L1906.7 1164.0 L1909.7 1164.1 L1912.7 1164.1 L1915.7 1164.2 L1918.7 1164.3 L1921.7 1164.3 L1924.7 1164.4 L1927.7 1164.4 L1930.7 1164.5 L1933.7 1164.6 L1936.7 1164.6 L1939.7 1164.7 L1942.7 1164.8 L1945.7 1164.8 L1948.7 1164.9 L1951.7 1165.0 L1954.7 1165.0 L1957.7 1165.1 L1960.7 1165.1 L1963.7 1165.2 L1966.7 1165.3 L1969.7 1165.3 L1972.7 1165.4 L1975.7 1165.5 L1978.7 1165.5 L1981.7 1165.6 L1984.7 1165.7 L1987.7 1165.7 L1990.7 1165.8 L1993.7 1165.8 L1996.7 1165.9 L1999.7 1166.0 L2002.7 1166.0 L2005.7 1166.1 L2008.7 1166.2 L2011.7 1166.2 L2014.7 1166.3 L2017.6 1166.4 L2019.7 1166.4" fill="none" stroke="#ee1a26" stroke-width="4.6" stroke-linejoin="round" stroke-linecap="round"/>
<path d="M298.8 1421.3 L300.2 1424.0 L301.5 1426.7 L302.9 1429.3 L304.3 1431.9 L306.0 1434.4 L308.0 1436.6 L310.4 1438.4 L313.1 1439.8 L315.8 1440.9 L318.6 1442.0 L321.4 1443.2 L324.0 1444.6 L326.7 1445.9 L329.6 1446.8 L332.5 1447.2 L335.5 1447.0 L338.4 1447.1 L341.2 1448.1 L343.3 1450.1 L345.1 1452.5 L346.8 1455.0 L348.4 1457.5 L350.2 1459.9 L352.3 1462.1 L354.8 1463.6 L357.7 1463.8 L360.5 1463.1 L363.3 1461.9 L365.9 1460.5 L368.6 1459.2 L371.4 1458.1 L374.3 1457.7 L377.0 1458.7 L379.1 1460.7 L380.9 1463.2 L382.4 1465.7 L384.1 1468.2 L386.1 1470.3 L388.8 1471.2 L391.6 1470.6 L394.2 1469.2 L396.7 1467.6 L399.4 1466.2 L402.2 1465.3 L405.1 1465.5 L407.8 1466.7 L410.3 1468.4 L412.7 1470.2 L415.0 1472.1 L417.4 1473.8 L420.0 1475.3 L422.8 1476.3 L425.8 1476.4 L428.7 1475.9 L431.6 1475.0 L434.4 1474.1 L437.3 1473.3 L440.3 1473.0 L443.2 1473.5 L445.9 1474.8 L448.2 1476.6 L450.4 1478.7 L452.5 1480.8 L454.7 1482.8 L457.1 1484.6 L459.8 1485.9 L462.7 1486.2 L465.5 1485.4 L468.1 1484.0 L470.5 1482.2 L472.8 1480.3 L475.1 1478.3 L477.2 1476.2 L479.4 1474.2 L481.7 1472.2 L484.0 1470.3 L486.5 1468.6 L489.1 1467.2 L491.8 1465.9 L494.6 1464.8 L497.5 1463.9 L500.4 1463.2 L503.3 1462.8 L506.3 1462.7 L509.3 1463.0 L512.2 1463.8 L514.8 1465.2 L517.3 1466.9 L519.6 1468.8 L521.8 1470.8 L524.2 1472.7 L526.6 1474.4 L529.3 1475.7 L532.2 1476.2 L535.1 1475.7 L537.7 1474.3 L540.1 1472.5 L542.3 1470.5 L544.4 1468.4 L546.6 1466.3 L548.8 1464.3 L551.2 1462.5 L553.8 1461.1 L556.6 1460.3 L559.6 1460.6 L562.3 1461.7 L564.8 1463.4 L567.1 1465.3 L569.3 1467.3 L571.4 1469.5 L573.5 1471.6 L575.6 1473.7 L577.8 1475.8 L580.0 1477.8 L582.4 1479.6 L585.0 1481.1 L587.8 1482.1 L590.7 1482.9 L593.7 1483.3 L596.7 1483.5 L599.7 1483.5 L602.7 1483.4 L605.6 1483.2 L608.6 1483.0 L611.6 1482.8 L614.6 1482.6 L617.6 1482.5 L620.6 1482.2 L623.6 1481.9 L626.5 1481.3 L629.4 1480.5 L632.2 1479.5 L634.8 1478.0 L637.3 1476.3 L639.8 1474.6 L642.4 1473.2 L645.3 1472.4 L648.2 1472.1 L651.2 1472.4 L654.2 1472.8 L657.1 1473.4 L660.1 1473.9 L663.1 1474.2 L666.1 1474.1 L669.0 1473.6 L671.7 1472.4 L674.2 1470.8 L676.6 1469.0 L679.0 1467.1 L681.4 1465.4 L684.0 1463.8 L686.7 1462.6 L689.6 1461.9 L692.6 1461.5 L695.6 1461.3 L698.6 1461.3 L701.6 1461.4 L704.6 1461.5 L707.6 1461.5 L710.6 1461.5 L713.6 1461.4 L716.5 1461.1 L719.5 1460.4 L722.3 1459.4 L724.9 1458.0 L727.3 1456.2 L729.5 1454.2 L731.6 1452.1 L733.7 1449.9 L735.7 1447.6 L737.7 1445.5 L739.9 1443.4 L742.2 1441.5 L744.7 1439.7 L747.1 1438.1 L749.7 1436.4 L752.2 1434.8 L754.6 1433.0 L757.0 1431.2 L759.2 1429.2 L761.2 1427.0 L763.0 1424.6 L764.6 1422.0 L766.0 1419.4 L767.2 1416.6 L768.3 1413.9 L769.4 1411.1 L770.6 1408.3 L771.7 1405.5 L772.8 1402.7 L773.9 1399.9 L775.0 1397.1 L776.0 1394.3 L777.0 1391.5 L778.0 1388.7 L779.0 1385.8 L780.0 1383.0 L780.9 1380.2 L781.9 1377.3 L782.7 1374.4 L783.5 1371.5 L784.3 1368.6 L785.0 1365.7 L785.7 1362.8 L786.4 1359.9 L787.1 1357.0 L787.8 1354.1 L788.5 1351.1 L789.1 1348.2 L789.8 1345.3 L790.4 1342.3 L791.0 1339.4 L791.6 1336.5 L792.2 1333.5 L792.7 1330.6 L793.2 1327.6 L793.7 1324.6 L794.2 1321.7 L794.7 1318.7 L795.2 1315.8 L795.7 1312.8 L796.2 1309.9 L796.8 1306.9 L797.3 1304.0 L797.8 1301.0 L798.4 1298.0 L798.9 1295.1 L799.4 1292.1 L799.9 1289.2 L800.4 1286.2 L800.8 1283.3 L801.3 1280.3 L801.8 1277.3 L802.2 1274.4 L802.6 1271.4 L803.1 1268.4 L803.5 1265.5 L803.9 1262.5 L804.3 1259.5 L804.7 1256.5 L805.0 1253.6 L805.4 1250.6 L805.8 1247.6 L806.1 1244.6 L806.5 1241.6 L806.9 1238.7 L807.3 1235.7 L807.7 1232.7 L808.1 1229.7 L808.5 1226.8 L809.0 1223.8 L809.4 1220.8 L809.9 1217.9 L810.4 1214.9 L810.9 1212.0 L811.4 1209.0 L811.9 1206.0 L812.4 1203.1 L813.1 1200.2 L813.8 1197.3 L814.8 1194.4 L815.9 1191.6 L817.3 1189.0 L819.0 1186.5 L821.2 1185.2 L823.5 1186.2 L825.1 1188.7 L826.3 1191.5 L827.2 1194.3 L827.9 1197.2 L828.6 1200.2 L829.2 1203.1 L829.8 1206.0 L830.4 1209.0 L831.0 1211.9 L831.6 1214.9 L832.2 1217.8 L832.8 1220.7 L833.4 1223.7 L834.0 1226.6 L834.6 1229.6 L835.2 1232.5 L835.7 1235.4 L836.2 1238.4 L836.7 1241.4 L837.2 1244.3 L837.7 1247.3 L838.1 1250.3 L838.5 1253.2 L838.9 1256.2 L839.4 1259.2 L839.8 1262.1 L840.3 1265.1 L840.8 1268.1 L841.3 1271.0 L841.8 1274.0 L842.3 1276.9 L842.9 1279.9 L843.4 1282.8 L843.9 1285.8 L844.4 1288.7 L844.9 1291.7 L845.4 1294.7 L845.9 1297.6 L846.4 1300.6 L846.9 1303.5 L847.4 1306.5 L848.0 1309.4 L848.6 1312.4 L849.2 1315.3 L849.9 1318.2 L850.5 1321.2 L851.2 1324.1 L851.9 1327.0 L852.7 1329.9 L853.5 1332.8 L854.4 1335.7 L855.3 1338.5 L856.4 1341.3 L857.5 1344.1 L858.7 1346.8 L860.0 1349.6 L861.4 1352.2 L863.0 1354.7 L864.8 1357.1 L866.7 1359.4 L869.0 1361.3 L871.7 1362.2 L874.4 1361.4 L876.7 1359.5 L878.6 1357.2 L880.4 1354.8 L882.1 1352.4 L883.9 1349.9 L885.7 1347.6 L887.6 1345.2 L889.4 1342.8 L891.0 1340.3 L892.5 1337.7 L893.8 1335.0 L895.1 1332.3 L896.3 1329.6 L897.5 1326.8 L898.6 1324.0 L899.7 1321.2 L900.7 1318.4 L901.7 1315.6 L902.6 1312.7 L903.4 1309.8 L904.1 1306.9 L904.7 1304.0 L905.3 1301.0 L905.8 1298.1 L906.3 1295.1 L906.8 1292.2 L907.4 1289.2 L907.9 1286.3 L908.5 1283.3 L909.1 1280.4 L909.7 1277.4 L910.3 1274.5 L910.9 1271.6 L911.5 1268.6 L912.1 1265.7 L912.6 1262.7 L913.1 1259.8 L913.6 1256.8 L914.1 1253.8 L914.5 1250.9 L915.0 1247.9 L915.4 1244.9 L915.8 1242.0 L916.2 1239.0 L916.5 1236.0 L916.8 1233.0 L917.1 1230.0 L917.3 1227.0 L917.6 1224.1 L917.9 1221.1 L918.2 1218.1 L918.5 1215.1 L918.8 1212.1 L919.2 1209.1 L919.6 1206.2 L919.9 1203.2 L920.4 1200.2 L920.8 1197.2 L921.3 1194.3 L921.9 1191.4 L922.6 1188.4 L923.5 1185.6 L924.5 1182.7 L925.6 1180.0 L927.1 1177.5 L929.1 1177.1 L930.6 1179.3 L931.6 1182.1 L932.3 1185.0 L933.0 1188.0 L933.7 1190.9 L934.2 1193.8 L934.7 1196.8 L935.2 1199.8 L935.6 1202.7 L936.0 1205.7 L936.4 1208.7 L936.8 1211.6 L937.2 1214.6 L937.5 1217.6 L937.9 1220.6 L938.2 1223.6 L938.5 1226.6 L938.7 1229.5 L939.0 1232.5 L939.3 1235.5 L939.5 1238.5 L939.7 1241.5 L939.9 1244.5 L940.0 1247.5 L940.2 1250.5 L940.3 1253.5 L940.5 1256.5 L940.6 1259.5 L940.8 1262.5 L940.9 1265.5 L941.0 1268.5 L941.2 1271.5 L941.3 1274.5 L941.5 1277.5 L941.6 1280.5 L941.8 1283.5 L941.9 1286.4 L942.1 1289.4 L942.3 1292.4 L942.5 1295.4 L942.7 1298.4 L943.0 1301.4 L943.2 1304.4 L943.4 1307.4 L943.6 1310.4 L943.9 1313.4 L944.1 1316.4 L944.3 1319.4 L944.5 1322.4 L944.8 1325.3 L945.0 1328.3 L945.2 1331.3 L945.5 1334.3 L945.7 1337.3 L946.0 1340.3 L946.3 1343.3 L946.6 1346.3 L946.9 1349.2 L947.2 1352.2 L947.5 1355.2 L947.8 1358.2 L948.1 1361.2 L948.3 1364.2 L948.5 1367.2 L948.6 1370.2 L948.8 1373.2 L948.9 1376.2 L949.1 1379.2 L949.3 1382.2 L949.5 1385.1 L949.7 1388.1 L950.0 1391.1 L950.2 1394.1 L950.5 1397.1 L950.8 1400.1 L951.1 1403.1 L951.6 1406.0 L952.1 1409.0 L952.7 1411.9 L953.3 1414.9 L954.0 1417.8 L954.7 1420.7 L955.5 1423.6 L956.4 1426.5 L957.3 1429.3 L958.4 1432.1 L960.0 1434.6 L961.9 1436.9 L963.7 1439.3 L965.4 1441.8 L967.2 1444.2 L969.1 1446.5 L971.1 1448.7 L973.4 1450.7 L975.7 1452.6 L978.0 1454.5 L980.4 1456.3 L982.9 1458.0 L985.3 1459.8 L987.8 1461.5 L990.2 1463.2 L992.7 1464.8 L995.3 1466.5 L997.8 1468.1 L1000.3 1469.7 L1002.9 1471.3 L1005.5 1472.8 L1008.1 1474.3 L1010.7 1475.7 L1013.4 1477.0 L1016.2 1478.1 L1019.1 1478.9 L1022.0 1478.9 L1024.9 1478.2 L1027.7 1477.1 L1030.4 1475.8 L1033.0 1474.4 L1035.7 1473.0 L1038.3 1471.6 L1041.0 1470.3 L1043.9 1469.3 L1046.8 1468.8 L1049.8 1468.9 L1052.6 1469.7 L1055.3 1471.0 L1057.7 1472.8 L1059.9 1474.8 L1061.7 1477.2 L1063.5 1479.6 L1065.2 1482.0 L1067.1 1484.4 L1069.1 1486.6 L1071.3 1488.7 L1073.5 1490.7 L1075.8 1492.7 L1078.0 1494.6 L1080.4 1496.5 L1082.9 1498.2 L1085.5 1499.6 L1088.2 1500.8 L1091.1 1501.5 L1094.1 1501.7 L1097.1 1501.5 L1100.0 1500.9 L1102.9 1500.2 L1105.8 1499.4 L1108.7 1498.7 L1111.7 1498.1 L1114.7 1497.8 L1117.7 1497.7 L1120.6 1497.9 L1123.6 1498.2 L1126.6 1498.6 L1129.6 1499.1 L1132.5 1499.5 L1135.5 1499.9 L1138.5 1500.1 L1141.5 1500.2 L1144.5 1500.1 L1147.5 1500.0 L1150.5 1499.8 L1153.5 1499.5 L1156.5 1499.3 L1159.5 1499.0 L1162.5 1498.9 L1165.4 1498.8 L1168.4 1498.9 L1171.4 1499.2 L1174.3 1500.0 L1177.0 1501.3 L1179.5 1502.9 L1182.0 1504.5 L1184.6 1506.1 L1187.3 1507.5 L1189.9 1508.9 L1192.5 1510.4 L1195.1 1511.9 L1197.8 1513.2 L1200.6 1514.3 L1203.5 1514.9 L1206.5 1515.0 L1209.4 1514.4 L1212.2 1513.3 L1214.8 1512.0 L1217.5 1510.6 L1220.1 1509.2 L1222.9 1507.9 L1225.7 1507.0 L1228.6 1506.6 L1231.6 1506.7 L1234.5 1507.4 L1237.4 1508.3 L1240.2 1509.4 L1242.9 1510.6 L1245.7 1511.8 L1248.5 1512.9 L1251.2 1514.1 L1253.9 1515.4 L1256.6 1516.7 L1259.3 1518.1 L1262.0 1519.3 L1264.8 1520.4 L1267.7 1521.2 L1270.7 1521.4 L1273.6 1520.9 L1276.4 1519.8 L1279.0 1518.3 L1281.5 1516.7 L1284.0 1515.0 L1286.5 1513.4 L1289.2 1512.1 L1292.0 1511.1 L1294.9 1510.3 L1297.8 1509.6 L1300.8 1509.1 L1303.7 1508.8 L1306.7 1508.7 L1309.7 1508.9 L1312.7 1509.5 L1315.5 1510.4 L1318.2 1511.7 L1320.9 1513.0 L1323.6 1514.3 L1326.4 1515.5 L1329.2 1516.6 L1332.1 1517.3 L1335.0 1517.6 L1338.0 1517.4 L1341.0 1516.9 L1343.9 1516.2 L1346.7 1515.2 L1349.5 1514.2 L1352.3 1513.0 L1355.1 1511.9 L1357.8 1510.7 L1360.6 1509.6 L1363.4 1508.5 L1366.2 1507.5 L1369.1 1506.6 L1372.0 1505.8 L1374.9 1504.9 L1377.7 1504.0 L1380.6 1503.2 L1383.5 1502.4 L1386.4 1501.5 L1389.2 1500.7 L1392.1 1499.8 L1395.0 1499.0 L1397.9 1498.1 L1400.8 1497.3 L1403.7 1496.5 L1406.5 1495.7 L1409.4 1494.8 L1412.3 1494.0 L1415.2 1493.1 L1418.0 1492.3 L1420.9 1491.4 L1423.8 1490.5 L1426.6 1489.5 L1429.4 1488.5 L1432.2 1487.4 L1435.0 1486.2 L1437.7 1484.9 L1440.4 1483.6 L1443.0 1482.2 L1445.7 1480.9 L1448.4 1479.6 L1451.2 1478.5 L1454.1 1477.5 L1456.9 1476.6 L1459.8 1475.8 L1462.7 1475.0 L1465.6 1474.4 L1468.6 1473.8 L1471.5 1473.4 L1474.5 1473.1 L1477.5 1473.0 L1480.5 1473.2 L1483.5 1473.8 L1486.3 1474.6 L1489.2 1475.5 L1492.0 1476.6 L1494.8 1477.6 L1497.7 1478.6 L1500.5 1479.3 L1503.5 1479.6 L1506.4 1479.0 L1508.9 1477.4 L1511.0 1475.3 L1513.3 1473.4 L1515.7 1471.6 L1518.1 1469.8 L1520.5 1467.9 L1522.8 1466.1 L1525.2 1464.3 L1527.6 1462.5 L1530.2 1460.9 L1532.8 1459.5 L1535.6 1458.4 L1538.5 1457.8 L1541.5 1457.6 L1544.5 1458.0 L1547.4 1458.5 L1550.3 1459.4 L1553.1 1460.4 L1555.9 1461.6 L1558.5 1462.9 L1561.2 1464.3 L1563.6 1466.1 L1565.7 1468.2 L1567.6 1470.5 L1569.8 1472.6 L1572.4 1474.0 L1575.2 1474.8 L1578.2 1475.2 L1581.2 1475.3 L1584.2 1475.4 L1587.2 1475.5 L1590.2 1475.6 L1593.2 1475.9 L1596.2 1476.2 L1599.1 1476.8 L1601.9 1477.8 L1604.7 1479.0 L1607.3 1480.4 L1609.9 1482.0 L1612.4 1483.6 L1614.9 1485.2 L1617.4 1486.9 L1620.0 1488.4 L1622.7 1489.7 L1625.5 1490.8 L1628.3 1491.9 L1631.1 1492.8 L1634.0 1493.6 L1636.9 1494.3 L1639.9 1494.8 L1642.9 1495.1 L1645.9 1495.2 L1648.9 1495.3 L1651.8 1495.8 L1654.7 1496.6 L1657.4 1497.8 L1659.9 1499.5 L1662.2 1501.4 L1664.5 1503.4 L1666.7 1505.4 L1668.8 1507.5 L1671.0 1509.6 L1673.2 1511.6 L1675.5 1513.5 L1677.8 1515.5 L1680.0 1517.5 L1682.3 1519.4 L1684.7 1521.2 L1687.4 1522.6 L1690.1 1523.7 L1693.0 1524.5 L1696.0 1525.1 L1698.9 1525.5 L1701.9 1525.9 L1704.9 1526.2 L1707.9 1526.5 L1710.9 1526.8 L1713.9 1527.0 L1716.8 1527.4 L1719.8 1527.7 L1722.8 1528.2 L1725.7 1528.7 L1728.6 1529.4 L1731.5 1530.4 L1734.3 1531.5 L1737.0 1532.8 L1739.6 1534.2 L1742.2 1535.7 L1744.8 1537.2 L1747.4 1538.7 L1750.0 1540.2 L1752.7 1541.6 L1755.4 1542.8 L1758.2 1543.8 L1761.1 1544.8 L1763.9 1545.7 L1766.8 1546.5 L1769.7 1547.2 L1772.7 1547.8 L1775.6 1548.4 L1778.6 1549.0 L1781.5 1549.5 L1784.5 1549.9 L1787.4 1550.3 L1790.4 1550.6 L1793.4 1550.9 L1796.4 1551.2 L1799.4 1551.4 L1802.4 1551.6 L1805.4 1551.9 L1808.4 1552.1 L1811.4 1552.4 L1814.3 1552.8 L1817.3 1553.2 L1820.3 1553.7 L1823.2 1554.3 L1826.1 1555.1 L1828.9 1556.1 L1831.7 1557.2 L1834.5 1558.3 L1837.3 1559.4 L1840.1 1560.3 L1843.0 1561.2 L1845.9 1561.9 L1848.9 1562.5 L1851.8 1562.9 L1854.8 1563.3 L1857.8 1563.6 L1860.8 1563.8 L1863.8 1564.0 L1866.8 1564.2 L1869.8 1564.4 L1872.8 1564.5 L1875.8 1564.6 L1878.8 1564.7 L1881.8 1564.8 L1884.8 1564.9 L1887.8 1564.9 L1890.8 1565.0 L1893.8 1565.1 L1896.8 1565.2 L1899.8 1565.2 L1902.8 1565.3 L1905.8 1565.4 L1908.8 1565.5 L1911.8 1565.6 L1914.8 1565.7 L1917.8 1565.8 L1920.7 1566.0 L1923.7 1566.2 L1926.7 1566.3 L1929.7 1566.5 L1932.7 1566.7 L1935.7 1566.9 L1938.7 1567.2 L1941.7 1567.4 L1944.7 1567.6 L1947.7 1567.8 L1950.7 1568.0 L1953.7 1568.2 L1956.7 1568.4 L1959.7 1568.6 L1962.7 1568.8 L1965.6 1569.0 L1968.6 1569.2 L1971.6 1569.4 L1974.6 1569.6 L1977.6 1569.7 L1980.6 1569.8 L1983.6 1569.8 L1986.6 1569.8 L1989.6 1569.7 L1992.6 1569.7 L1995.6 1569.6 L1998.6 1569.4 L2001.6 1569.3 L2004.6 1569.2 L2007.6 1569.1 L2010.6 1568.9 L2013.6 1568.8 L2016.6 1568.6 L2019.6 1568.5" fill="none" stroke="#1a1a1a" stroke-opacity="0.3" stroke-width="8.6" stroke-linejoin="round" stroke-linecap="round"/>
<path d="M298.8 1421.3 L300.2 1424.0 L301.5 1426.7 L302.9 1429.3 L304.3 1431.9 L306.0 1434.4 L308.0 1436.6 L310.4 1438.4 L313.1 1439.8 L315.8 1440.9 L318.6 1442.0 L321.4 1443.2 L324.0 1444.6 L326.7 1445.9 L329.6 1446.8 L332.5 1447.2 L335.5 1447.0 L338.4 1447.1 L341.2 1448.1 L343.3 1450.1 L345.1 1452.5 L346.8 1455.0 L348.4 1457.5 L350.2 1459.9 L352.3 1462.1 L354.8 1463.6 L357.7 1463.8 L360.5 1463.1 L363.3 1461.9 L365.9 1460.5 L368.6 1459.2 L371.4 1458.1 L374.3 1457.7 L377.0 1458.7 L379.1 1460.7 L380.9 1463.2 L382.4 1465.7 L384.1 1468.2 L386.1 1470.3 L388.8 1471.2 L391.6 1470.6 L394.2 1469.2 L396.7 1467.6 L399.4 1466.2 L402.2 1465.3 L405.1 1465.5 L407.8 1466.7 L410.3 1468.4 L412.7 1470.2 L415.0 1472.1 L417.4 1473.8 L420.0 1475.3 L422.8 1476.3 L425.8 1476.4 L428.7 1475.9 L431.6 1475.0 L434.4 1474.1 L437.3 1473.3 L440.3 1473.0 L443.2 1473.5 L445.9 1474.8 L448.2 1476.6 L450.4 1478.7 L452.5 1480.8 L454.7 1482.8 L457.1 1484.6 L459.8 1485.9 L462.7 1486.2 L465.5 1485.4 L468.1 1484.0 L470.5 1482.2 L472.8 1480.3 L475.1 1478.3 L477.2 1476.2 L479.4 1474.2 L481.7 1472.2 L484.0 1470.3 L486.5 1468.6 L489.1 1467.2 L491.8 1465.9 L494.6 1464.8 L497.5 1463.9 L500.4 1463.2 L503.3 1462.8 L506.3 1462.7 L509.3 1463.0 L512.2 1463.8 L514.8 1465.2 L517.3 1466.9 L519.6 1468.8 L521.8 1470.8 L524.2 1472.7 L526.6 1474.4 L529.3 1475.7 L532.2 1476.2 L535.1 1475.7 L537.7 1474.3 L540.1 1472.5 L542.3 1470.5 L544.4 1468.4 L546.6 1466.3 L548.8 1464.3 L551.2 1462.5 L553.8 1461.1 L556.6 1460.3 L559.6 1460.6 L562.3 1461.7 L564.8 1463.4 L567.1 1465.3 L569.3 1467.3 L571.4 1469.5 L573.5 1471.6 L575.6 1473.7 L577.8 1475.8 L580.0 1477.8 L582.4 1479.6 L585.0 1481.1 L587.8 1482.1 L590.7 1482.9 L593.7 1483.3 L596.7 1483.5 L599.7 1483.5 L602.7 1483.4 L605.6 1483.2 L608.6 1483.0 L611.6 1482.8 L614.6 1482.6 L617.6 1482.5 L620.6 1482.2 L623.6 1481.9 L626.5 1481.3 L629.4 1480.5 L632.2 1479.5 L634.8 1478.0 L637.3 1476.3 L639.8 1474.6 L642.4 1473.2 L645.3 1472.4 L648.2 1472.1 L651.2 1472.4 L654.2 1472.8 L657.1 1473.4 L660.1 1473.9 L663.1 1474.2 L666.1 1474.1 L669.0 1473.6 L671.7 1472.4 L674.2 1470.8 L676.6 1469.0 L679.0 1467.1 L681.4 1465.4 L684.0 1463.8 L686.7 1462.6 L689.6 1461.9 L692.6 1461.5 L695.6 1461.3 L698.6 1461.3 L701.6 1461.4 L704.6 1461.5 L707.6 1461.5 L710.6 1461.5 L713.6 1461.4 L716.5 1461.1 L719.5 1460.4 L722.3 1459.4 L724.9 1458.0 L727.3 1456.2 L729.5 1454.2 L731.6 1452.1 L733.7 1449.9 L735.7 1447.6 L737.7 1445.5 L739.9 1443.4 L742.2 1441.5 L744.7 1439.7 L747.1 1438.1 L749.7 1436.4 L752.2 1434.8 L754.6 1433.0 L757.0 1431.2 L759.2 1429.2 L761.2 1427.0 L763.0 1424.6 L764.6 1422.0 L766.0 1419.4 L767.2 1416.6 L768.3 1413.9 L769.4 1411.1 L770.6 1408.3 L771.7 1405.5 L772.8 1402.7 L773.9 1399.9 L775.0 1397.1 L776.0 1394.3 L777.0 1391.5 L778.0 1388.7 L779.0 1385.8 L780.0 1383.0 L780.9 1380.2 L781.9 1377.3 L782.7 1374.4 L783.5 1371.5 L784.3 1368.6 L785.0 1365.7 L785.7 1362.8 L786.4 1359.9 L787.1 1357.0 L787.8 1354.1 L788.5 1351.1 L789.1 1348.2 L789.8 1345.3 L790.4 1342.3 L791.0 1339.4 L791.6 1336.5 L792.2 1333.5 L792.7 1330.6 L793.2 1327.6 L793.7 1324.6 L794.2 1321.7 L794.7 1318.7 L795.2 1315.8 L795.7 1312.8 L796.2 1309.9 L796.8 1306.9 L797.3 1304.0 L797.8 1301.0 L798.4 1298.0 L798.9 1295.1 L799.4 1292.1 L799.9 1289.2 L800.4 1286.2 L800.8 1283.3 L801.3 1280.3 L801.8 1277.3 L802.2 1274.4 L802.6 1271.4 L803.1 1268.4 L803.5 1265.5 L803.9 1262.5 L804.3 1259.5 L804.7 1256.5 L805.0 1253.6 L805.4 1250.6 L805.8 1247.6 L806.1 1244.6 L806.5 1241.6 L806.9 1238.7 L807.3 1235.7 L807.7 1232.7 L808.1 1229.7 L808.5 1226.8 L809.0 1223.8 L809.4 1220.8 L809.9 1217.9 L810.4 1214.9 L810.9 1212.0 L811.4 1209.0 L811.9 1206.0 L812.4 1203.1 L813.1 1200.2 L813.8 1197.3 L814.8 1194.4 L815.9 1191.6 L817.3 1189.0 L819.0 1186.5 L821.2 1185.2 L823.5 1186.2 L825.1 1188.7 L826.3 1191.5 L827.2 1194.3 L827.9 1197.2 L828.6 1200.2 L829.2 1203.1 L829.8 1206.0 L830.4 1209.0 L831.0 1211.9 L831.6 1214.9 L832.2 1217.8 L832.8 1220.7 L833.4 1223.7 L834.0 1226.6 L834.6 1229.6 L835.2 1232.5 L835.7 1235.4 L836.2 1238.4 L836.7 1241.4 L837.2 1244.3 L837.7 1247.3 L838.1 1250.3 L838.5 1253.2 L838.9 1256.2 L839.4 1259.2 L839.8 1262.1 L840.3 1265.1 L840.8 1268.1 L841.3 1271.0 L841.8 1274.0 L842.3 1276.9 L842.9 1279.9 L843.4 1282.8 L843.9 1285.8 L844.4 1288.7 L844.9 1291.7 L845.4 1294.7 L845.9 1297.6 L846.4 1300.6 L846.9 1303.5 L847.4 1306.5 L848.0 1309.4 L848.6 1312.4 L849.2 1315.3 L849.9 1318.2 L850.5 1321.2 L851.2 1324.1 L851.9 1327.0 L852.7 1329.9 L853.5 1332.8 L854.4 1335.7 L855.3 1338.5 L856.4 1341.3 L857.5 1344.1 L858.7 1346.8 L860.0 1349.6 L861.4 1352.2 L863.0 1354.7 L864.8 1357.1 L866.7 1359.4 L869.0 1361.3 L871.7 1362.2 L874.4 1361.4 L876.7 1359.5 L878.6 1357.2 L880.4 1354.8 L882.1 1352.4 L883.9 1349.9 L885.7 1347.6 L887.6 1345.2 L889.4 1342.8 L891.0 1340.3 L892.5 1337.7 L893.8 1335.0 L895.1 1332.3 L896.3 1329.6 L897.5 1326.8 L898.6 1324.0 L899.7 1321.2 L900.7 1318.4 L901.7 1315.6 L902.6 1312.7 L903.4 1309.8 L904.1 1306.9 L904.7 1304.0 L905.3 1301.0 L905.8 1298.1 L906.3 1295.1 L906.8 1292.2 L907.4 1289.2 L907.9 1286.3 L908.5 1283.3 L909.1 1280.4 L909.7 1277.4 L910.3 1274.5 L910.9 1271.6 L911.5 1268.6 L912.1 1265.7 L912.6 1262.7 L913.1 1259.8 L913.6 1256.8 L914.1 1253.8 L914.5 1250.9 L915.0 1247.9 L915.4 1244.9 L915.8 1242.0 L916.2 1239.0 L916.5 1236.0 L916.8 1233.0 L917.1 1230.0 L917.3 1227.0 L917.6 1224.1 L917.9 1221.1 L918.2 1218.1 L918.5 1215.1 L918.8 1212.1 L919.2 1209.1 L919.6 1206.2 L919.9 1203.2 L920.4 1200.2 L920.8 1197.2 L921.3 1194.3 L921.9 1191.4 L922.6 1188.4 L923.5 1185.6 L924.5 1182.7 L925.6 1180.0 L927.1 1177.5 L929.1 1177.1 L930.6 1179.3 L931.6 1182.1 L932.3 1185.0 L933.0 1188.0 L933.7 1190.9 L934.2 1193.8 L934.7 1196.8 L935.2 1199.8 L935.6 1202.7 L936.0 1205.7 L936.4 1208.7 L936.8 1211.6 L937.2 1214.6 L937.5 1217.6 L937.9 1220.6 L938.2 1223.6 L938.5 1226.6 L938.7 1229.5 L939.0 1232.5 L939.3 1235.5 L939.5 1238.5 L939.7 1241.5 L939.9 1244.5 L940.0 1247.5 L940.2 1250.5 L940.3 1253.5 L940.5 1256.5 L940.6 1259.5 L940.8 1262.5 L940.9 1265.5 L941.0 1268.5 L941.2 1271.5 L941.3 1274.5 L941.5 1277.5 L941.6 1280.5 L941.8 1283.5 L941.9 1286.4 L942.1 1289.4 L942.3 1292.4 L942.5 1295.4 L942.7 1298.4 L943.0 1301.4 L943.2 1304.4 L943.4 1307.4 L943.6 1310.4 L943.9 1313.4 L944.1 1316.4 L944.3 1319.4 L944.5 1322.4 L944.8 1325.3 L945.0 1328.3 L945.2 1331.3 L945.5 1334.3 L945.7 1337.3 L946.0 1340.3 L946.3 1343.3 L946.6 1346.3 L946.9 1349.2 L947.2 1352.2 L947.5 1355.2 L947.8 1358.2 L948.1 1361.2 L948.3 1364.2 L948.5 1367.2 L948.6 1370.2 L948.8 1373.2 L948.9 1376.2 L949.1 1379.2 L949.3 1382.2 L949.5 1385.1 L949.7 1388.1 L950.0 1391.1 L950.2 1394.1 L950.5 1397.1 L950.8 1400.1 L951.1 1403.1 L951.6 1406.0 L952.1 1409.0 L952.7 1411.9 L953.3 1414.9 L954.0 1417.8 L954.7 1420.7 L955.5 1423.6 L956.4 1426.5 L957.3 1429.3 L958.4 1432.1 L960.0 1434.6 L961.9 1436.9 L963.7 1439.3 L965.4 1441.8 L967.2 1444.2 L969.1 1446.5 L971.1 1448.7 L973.4 1450.7 L975.7 1452.6 L978.0 1454.5 L980.4 1456.3 L982.9 1458.0 L985.3 1459.8 L987.8 1461.5 L990.2 1463.2 L992.7 1464.8 L995.3 1466.5 L997.8 1468.1 L1000.3 1469.7 L1002.9 1471.3 L1005.5 1472.8 L1008.1 1474.3 L1010.7 1475.7 L1013.4 1477.0 L1016.2 1478.1 L1019.1 1478.9 L1022.0 1478.9 L1024.9 1478.2 L1027.7 1477.1 L1030.4 1475.8 L1033.0 1474.4 L1035.7 1473.0 L1038.3 1471.6 L1041.0 1470.3 L1043.9 1469.3 L1046.8 1468.8 L1049.8 1468.9 L1052.6 1469.7 L1055.3 1471.0 L1057.7 1472.8 L1059.9 1474.8 L1061.7 1477.2 L1063.5 1479.6 L1065.2 1482.0 L1067.1 1484.4 L1069.1 1486.6 L1071.3 1488.7 L1073.5 1490.7 L1075.8 1492.7 L1078.0 1494.6 L1080.4 1496.5 L1082.9 1498.2 L1085.5 1499.6 L1088.2 1500.8 L1091.1 1501.5 L1094.1 1501.7 L1097.1 1501.5 L1100.0 1500.9 L1102.9 1500.2 L1105.8 1499.4 L1108.7 1498.7 L1111.7 1498.1 L1114.7 1497.8 L1117.7 1497.7 L1120.6 1497.9 L1123.6 1498.2 L1126.6 1498.6 L1129.6 1499.1 L1132.5 1499.5 L1135.5 1499.9 L1138.5 1500.1 L1141.5 1500.2 L1144.5 1500.1 L1147.5 1500.0 L1150.5 1499.8 L1153.5 1499.5 L1156.5 1499.3 L1159.5 1499.0 L1162.5 1498.9 L1165.4 1498.8 L1168.4 1498.9 L1171.4 1499.2 L1174.3 1500.0 L1177.0 1501.3 L1179.5 1502.9 L1182.0 1504.5 L1184.6 1506.1 L1187.3 1507.5 L1189.9 1508.9 L1192.5 1510.4 L1195.1 1511.9 L1197.8 1513.2 L1200.6 1514.3 L1203.5 1514.9 L1206.5 1515.0 L1209.4 1514.4 L1212.2 1513.3 L1214.8 1512.0 L1217.5 1510.6 L1220.1 1509.2 L1222.9 1507.9 L1225.7 1507.0 L1228.6 1506.6 L1231.6 1506.7 L1234.5 1507.4 L1237.4 1508.3 L1240.2 1509.4 L1242.9 1510.6 L1245.7 1511.8 L1248.5 1512.9 L1251.2 1514.1 L1253.9 1515.4 L1256.6 1516.7 L1259.3 1518.1 L1262.0 1519.3 L1264.8 1520.4 L1267.7 1521.2 L1270.7 1521.4 L1273.6 1520.9 L1276.4 1519.8 L1279.0 1518.3 L1281.5 1516.7 L1284.0 1515.0 L1286.5 1513.4 L1289.2 1512.1 L1292.0 1511.1 L1294.9 1510.3 L1297.8 1509.6 L1300.8 1509.1 L1303.7 1508.8 L1306.7 1508.7 L1309.7 1508.9 L1312.7 1509.5 L1315.5 1510.4 L1318.2 1511.7 L1320.9 1513.0 L1323.6 1514.3 L1326.4 1515.5 L1329.2 1516.6 L1332.1 1517.3 L1335.0 1517.6 L1338.0 1517.4 L1341.0 1516.9 L1343.9 1516.2 L1346.7 1515.2 L1349.5 1514.2 L1352.3 1513.0 L1355.1 1511.9 L1357.8 1510.7 L1360.6 1509.6 L1363.4 1508.5 L1366.2 1507.5 L1369.1 1506.6 L1372.0 1505.8 L1374.9 1504.9 L1377.7 1504.0 L1380.6 1503.2 L1383.5 1502.4 L1386.4 1501.5 L1389.2 1500.7 L1392.1 1499.8 L1395.0 1499.0 L1397.9 1498.1 L1400.8 1497.3 L1403.7 1496.5 L1406.5 1495.7 L1409.4 1494.8 L1412.3 1494.0 L1415.2 1493.1 L1418.0 1492.3 L1420.9 1491.4 L1423.8 1490.5 L1426.6 1489.5 L1429.4 1488.5 L1432.2 1487.4 L1435.0 1486.2 L1437.7 1484.9 L1440.4 1483.6 L1443.0 1482.2 L1445.7 1480.9 L1448.4 1479.6 L1451.2 1478.5 L1454.1 1477.5 L1456.9 1476.6 L1459.8 1475.8 L1462.7 1475.0 L1465.6 1474.4 L1468.6 1473.8 L1471.5 1473.4 L1474.5 1473.1 L1477.5 1473.0 L1480.5 1473.2 L1483.5 1473.8 L1486.3 1474.6 L1489.2 1475.5 L1492.0 1476.6 L1494.8 1477.6 L1497.7 1478.6 L1500.5 1479.3 L1503.5 1479.6 L1506.4 1479.0 L1508.9 1477.4 L1511.0 1475.3 L1513.3 1473.4 L1515.7 1471.6 L1518.1 1469.8 L1520.5 1467.9 L1522.8 1466.1 L1525.2 1464.3 L1527.6 1462.5 L1530.2 1460.9 L1532.8 1459.5 L1535.6 1458.4 L1538.5 1457.8 L1541.5 1457.6 L1544.5 1458.0 L1547.4 1458.5 L1550.3 1459.4 L1553.1 1460.4 L1555.9 1461.6 L1558.5 1462.9 L1561.2 1464.3 L1563.6 1466.1 L1565.7 1468.2 L1567.6 1470.5 L1569.8 1472.6 L1572.4 1474.0 L1575.2 1474.8 L1578.2 1475.2 L1581.2 1475.3 L1584.2 1475.4 L1587.2 1475.5 L1590.2 1475.6 L1593.2 1475.9 L1596.2 1476.2 L1599.1 1476.8 L1601.9 1477.8 L1604.7 1479.0 L1607.3 1480.4 L1609.9 1482.0 L1612.4 1483.6 L1614.9 1485.2 L1617.4 1486.9 L1620.0 1488.4 L1622.7 1489.7 L1625.5 1490.8 L1628.3 1491.9 L1631.1 1492.8 L1634.0 1493.6 L1636.9 1494.3 L1639.9 1494.8 L1642.9 1495.1 L1645.9 1495.2 L1648.9 1495.3 L1651.8 1495.8 L1654.7 1496.6 L1657.4 1497.8 L1659.9 1499.5 L1662.2 1501.4 L1664.5 1503.4 L1666.7 1505.4 L1668.8 1507.5 L1671.0 1509.6 L1673.2 1511.6 L1675.5 1513.5 L1677.8 1515.5 L1680.0 1517.5 L1682.3 1519.4 L1684.7 1521.2 L1687.4 1522.6 L1690.1 1523.7 L1693.0 1524.5 L1696.0 1525.1 L1698.9 1525.5 L1701.9 1525.9 L1704.9 1526.2 L1707.9 1526.5 L1710.9 1526.8 L1713.9 1527.0 L1716.8 1527.4 L1719.8 1527.7 L1722.8 1528.2 L1725.7 1528.7 L1728.6 1529.4 L1731.5 1530.4 L1734.3 1531.5 L1737.0 1532.8 L1739.6 1534.2 L1742.2 1535.7 L1744.8 1537.2 L1747.4 1538.7 L1750.0 1540.2 L1752.7 1541.6 L1755.4 1542.8 L1758.2 1543.8 L1761.1 1544.8 L1763.9 1545.7 L1766.8 1546.5 L1769.7 1547.2 L1772.7 1547.8 L1775.6 1548.4 L1778.6 1549.0 L1781.5 1549.5 L1784.5 1549.9 L1787.4 1550.3 L1790.4 1550.6 L1793.4 1550.9 L1796.4 1551.2 L1799.4 1551.4 L1802.4 1551.6 L1805.4 1551.9 L1808.4 1552.1 L1811.4 1552.4 L1814.3 1552.8 L1817.3 1553.2 L1820.3 1553.7 L1823.2 1554.3 L1826.1 1555.1 L1828.9 1556.1 L1831.7 1557.2 L1834.5 1558.3 L1837.3 1559.4 L1840.1 1560.3 L1843.0 1561.2 L1845.9 1561.9 L1848.9 1562.5 L1851.8 1562.9 L1854.8 1563.3 L1857.8 1563.6 L1860.8 1563.8 L1863.8 1564.0 L1866.8 1564.2 L1869.8 1564.4 L1872.8 1564.5 L1875.8 1564.6 L1878.8 1564.7 L1881.8 1564.8 L1884.8 1564.9 L1887.8 1564.9 L1890.8 1565.0 L1893.8 1565.1 L1896.8 1565.2 L1899.8 1565.2 L1902.8 1565.3 L1905.8 1565.4 L1908.8 1565.5 L1911.8 1565.6 L1914.8 1565.7 L1917.8 1565.8 L1920.7 1566.0 L1923.7 1566.2 L1926.7 1566.3 L1929.7 1566.5 L1932.7 1566.7 L1935.7 1566.9 L1938.7 1567.2 L1941.7 1567.4 L1944.7 1567.6 L1947.7 1567.8 L1950.7 1568.0 L1953.7 1568.2 L1956.7 1568.4 L1959.7 1568.6 L1962.7 1568.8 L1965.6 1569.0 L1968.6 1569.2 L1971.6 1569.4 L1974.6 1569.6 L1977.6 1569.7 L1980.6 1569.8 L1983.6 1569.8 L1986.6 1569.8 L1989.6 1569.7 L1992.6 1569.7 L1995.6 1569.6 L1998.6 1569.4 L2001.6 1569.3 L2004.6 1569.2 L2007.6 1569.1 L2010.6 1568.9 L2013.6 1568.8 L2016.6 1568.6 L2019.6 1568.5" fill="none" stroke="#1a1a1a" stroke-width="4.6" stroke-linejoin="round" stroke-linecap="round"/>
<rect x="1704" y="19" width="4" height="447" fill="#666"/>
<rect x="1704" y="19" width="604" height="4" fill="#5c5c5c"/>
<rect x="2304" y="19" width="7.6" height="447" fill="#a2a2a2"/>
<rect x="1704" y="462" width="604" height="4" fill="#6e6e6e"/>
<g font-family="Liberation Sans, Arial, sans-serif" font-size="71.5" fill="#111"><rect x="1727" y="69.2" width="166" height="8.6" fill="#1f7f1f" fill-opacity="0.3"/><rect x="1728" y="71.2" width="164" height="4.6" fill="#1f7f1f"/><text x="1909" y="97.0">GOQu 2.5%</text><rect x="1727" y="156.4" width="166" height="8.6" fill="#f01cf0" fill-opacity="0.3"/><rect x="1728" y="158.4" width="164" height="4.6" fill="#f01cf0"/><text x="1909" y="184.4">GOQu 5%</text><rect x="1727" y="243.6" width="166" height="8.6" fill="#1414f0" fill-opacity="0.3"/><rect x="1728" y="245.6" width="164" height="4.6" fill="#1414f0"/><text x="1909" y="271.8">GOJu 5%</text><rect x="1727" y="330.8" width="166" height="8.6" fill="#ee1a26" fill-opacity="0.3"/><rect x="1728" y="332.8" width="164" height="4.6" fill="#ee1a26"/><text x="1909" y="359.2">GOJu 10%</text><rect x="1727" y="418.0" width="166" height="8.6" fill="#444" fill-opacity="0.3"/><rect x="1728" y="420.0" width="164" height="4.6" fill="#444"/><text x="1909" y="446.6">GO</text></g></svg>
</body></html>
